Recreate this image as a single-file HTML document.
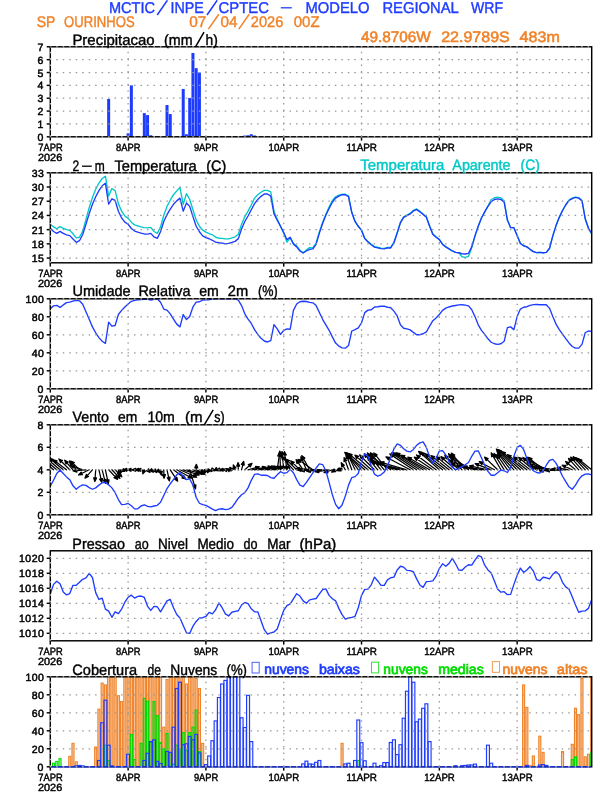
<!DOCTYPE html>
<html><head><meta charset="utf-8"><title>Meteograma WRF - SP OURINHOS</title>
<style>html,body{margin:0;padding:0;background:#fff}svg{display:block;will-change:transform}text{font-family:"Liberation Sans",sans-serif;text-rendering:geometricPrecision}</style>
</head><body>
<svg width="612" height="792" viewBox="0 0 612 792">
<rect width="612" height="792" fill="#fff"/>
<text x="108.9" y="12.65" font-size="15.6" fill="#1e3cff" text-anchor="start" textLength="46.1" lengthAdjust="spacingAndGlyphs" stroke="#1e3cff" stroke-width="0.4">MCTIC</text>
<text x="170.6" y="12.65" font-size="15.6" fill="#1e3cff" text-anchor="start" textLength="33.3" lengthAdjust="spacingAndGlyphs" stroke="#1e3cff" stroke-width="0.4">INPE</text>
<text x="218.6" y="12.65" font-size="15.6" fill="#1e3cff" text-anchor="start" textLength="50.4" lengthAdjust="spacingAndGlyphs" stroke="#1e3cff" stroke-width="0.4">CPTEC</text>
<text x="305.5" y="12.65" font-size="15.6" fill="#1e3cff" text-anchor="start" textLength="64.1" lengthAdjust="spacingAndGlyphs" stroke="#1e3cff" stroke-width="0.4">MODELO</text>
<text x="382.4" y="12.65" font-size="15.6" fill="#1e3cff" text-anchor="start" textLength="76.4" lengthAdjust="spacingAndGlyphs" stroke="#1e3cff" stroke-width="0.4">REGIONAL</text>
<text x="471" y="12.65" font-size="15.6" fill="#1e3cff" text-anchor="start" textLength="32" lengthAdjust="spacingAndGlyphs" stroke="#1e3cff" stroke-width="0.4">WRF</text>
<line x1="157.2" y1="15.05" x2="167.4" y2="0.25" stroke="#1e3cff" stroke-width="1.5"/>
<line x1="207" y1="15.05" x2="217.2" y2="0.25" stroke="#1e3cff" stroke-width="1.5"/>
<line x1="280.8" y1="7.8" x2="291.8" y2="7.8" stroke="#1e3cff" stroke-width="1.3"/>
<text x="36.7" y="26.7" font-size="15.5" fill="#f08228" text-anchor="start" textLength="18.6" lengthAdjust="spacingAndGlyphs" stroke="#f08228" stroke-width="0.4">SP</text>
<text x="64.1" y="26.7" font-size="15.5" fill="#f08228" text-anchor="start" textLength="70.6" lengthAdjust="spacingAndGlyphs" stroke="#f08228" stroke-width="0.4">OURINHOS</text>
<text x="189.2" y="26.7" font-size="15.5" fill="#f08228" text-anchor="start" textLength="17.1" lengthAdjust="spacingAndGlyphs" stroke="#f08228" stroke-width="0.4">07</text>
<text x="220.6" y="26.7" font-size="15.5" fill="#f08228" text-anchor="start" textLength="17" lengthAdjust="spacingAndGlyphs" stroke="#f08228" stroke-width="0.4">04</text>
<text x="250.8" y="26.7" font-size="15.5" fill="#f08228" text-anchor="start" textLength="32.5" lengthAdjust="spacingAndGlyphs" stroke="#f08228" stroke-width="0.4">2026</text>
<text x="293.7" y="26.7" font-size="15.5" fill="#f08228" text-anchor="start" textLength="25.9" lengthAdjust="spacingAndGlyphs" stroke="#f08228" stroke-width="0.4">00Z</text>
<line x1="208.4" y1="29.1" x2="218.8" y2="14.3" stroke="#f08228" stroke-width="1.5"/>
<line x1="238.8" y1="29.1" x2="249.2" y2="14.3" stroke="#f08228" stroke-width="1.5"/>
<text x="360.9" y="42.45" font-size="15.1" fill="#f08228" text-anchor="start" textLength="69.9" lengthAdjust="spacingAndGlyphs" stroke="#f08228" stroke-width="0.55">49.8706W</text>
<text x="441.2" y="42.45" font-size="15.1" fill="#f08228" text-anchor="start" textLength="68.6" lengthAdjust="spacingAndGlyphs" stroke="#f08228" stroke-width="0.55">22.9789S</text>
<text x="519.6" y="42.45" font-size="15.1" fill="#f08228" text-anchor="start" textLength="40.2" lengthAdjust="spacingAndGlyphs" stroke="#f08228" stroke-width="0.55">483m</text>
<g clip-path="url(#c0)">
<clipPath id="c0"><rect x="50.3" y="46.8" width="541.4" height="90"/></clipPath>
<rect x="107.15" y="99" width="3.0" height="37.8" fill="#1e3cff"/>
<rect x="110.4" y="136.16" width="3.0" height="0.64" fill="#1e3cff"/>
<rect x="126.61" y="133.33" width="3.0" height="3.47" fill="#1e3cff"/>
<rect x="129.85" y="85.37" width="3.0" height="51.43" fill="#1e3cff"/>
<rect x="142.82" y="113.14" width="3.0" height="23.66" fill="#1e3cff"/>
<rect x="146.06" y="115.07" width="3.0" height="21.73" fill="#1e3cff"/>
<rect x="149.3" y="135.26" width="3.0" height="1.54" fill="#1e3cff"/>
<rect x="155.78" y="136.41" width="3.0" height="0.39" fill="#1e3cff"/>
<rect x="165.51" y="105.04" width="3.0" height="31.76" fill="#1e3cff"/>
<rect x="168.75" y="114.04" width="3.0" height="22.76" fill="#1e3cff"/>
<rect x="175.23" y="136.16" width="3.0" height="0.64" fill="#1e3cff"/>
<rect x="181.72" y="88.97" width="3.0" height="47.83" fill="#1e3cff"/>
<rect x="184.96" y="134.23" width="3.0" height="2.57" fill="#1e3cff"/>
<rect x="188.2" y="97.97" width="3.0" height="38.83" fill="#1e3cff"/>
<rect x="191.44" y="52.97" width="3.0" height="83.83" fill="#1e3cff"/>
<rect x="194.69" y="68.14" width="3.0" height="68.66" fill="#1e3cff"/>
<rect x="197.93" y="72.51" width="3.0" height="64.29" fill="#1e3cff"/>
<rect x="223.86" y="136.29" width="3.0" height="0.51" fill="#1e3cff"/>
<rect x="227.11" y="136.29" width="3.0" height="0.51" fill="#1e3cff"/>
<rect x="230.35" y="136.29" width="3.0" height="0.51" fill="#1e3cff"/>
<rect x="233.59" y="136.16" width="3.0" height="0.64" fill="#1e3cff"/>
<rect x="236.83" y="136.29" width="3.0" height="0.51" fill="#1e3cff"/>
<rect x="240.07" y="136.16" width="3.0" height="0.64" fill="#1e3cff"/>
<rect x="243.31" y="135.51" width="3.0" height="1.29" fill="#1e3cff"/>
<rect x="246.56" y="135.26" width="3.0" height="1.54" fill="#1e3cff"/>
<rect x="249.8" y="134.23" width="3.0" height="2.57" fill="#1e3cff"/>
<rect x="253.04" y="135.51" width="3.0" height="1.29" fill="#1e3cff"/>
<rect x="327.6" y="136.41" width="3.0" height="0.39" fill="#1e3cff"/>
<rect x="330.85" y="136.41" width="3.0" height="0.39" fill="#1e3cff"/>
<rect x="382.72" y="136.41" width="3.0" height="0.39" fill="#1e3cff"/>
<rect x="385.96" y="136.41" width="3.0" height="0.39" fill="#1e3cff"/>
<rect x="408.65" y="136.29" width="3.0" height="0.51" fill="#1e3cff"/>
<rect x="411.89" y="136.41" width="3.0" height="0.39" fill="#1e3cff"/>
<rect x="492.94" y="136.29" width="3.0" height="0.51" fill="#1e3cff"/>
</g>
<rect x="50.3" y="46.8" width="541.4" height="90" fill="none" stroke="#000" stroke-width="1.45"/>
<line x1="46.7" y1="136.8" x2="50.3" y2="136.8" stroke="#000" stroke-width="1.45"/>
<text x="43.8" y="140.8" font-size="10.5" fill="#000" text-anchor="end" stroke="#000" stroke-width="0.5" letter-spacing="0.45">0</text>
<line x1="46.7" y1="123.94" x2="50.3" y2="123.94" stroke="#000" stroke-width="1.45"/>
<text x="43.8" y="127.94" font-size="10.5" fill="#000" text-anchor="end" stroke="#000" stroke-width="0.5" letter-spacing="0.45">1</text>
<line x1="46.7" y1="111.09" x2="50.3" y2="111.09" stroke="#000" stroke-width="1.45"/>
<text x="43.8" y="115.09" font-size="10.5" fill="#000" text-anchor="end" stroke="#000" stroke-width="0.5" letter-spacing="0.45">2</text>
<line x1="46.7" y1="98.23" x2="50.3" y2="98.23" stroke="#000" stroke-width="1.45"/>
<text x="43.8" y="102.23" font-size="10.5" fill="#000" text-anchor="end" stroke="#000" stroke-width="0.5" letter-spacing="0.45">3</text>
<line x1="46.7" y1="85.37" x2="50.3" y2="85.37" stroke="#000" stroke-width="1.45"/>
<text x="43.8" y="89.37" font-size="10.5" fill="#000" text-anchor="end" stroke="#000" stroke-width="0.5" letter-spacing="0.45">4</text>
<line x1="46.7" y1="72.51" x2="50.3" y2="72.51" stroke="#000" stroke-width="1.45"/>
<text x="43.8" y="76.51" font-size="10.5" fill="#000" text-anchor="end" stroke="#000" stroke-width="0.5" letter-spacing="0.45">5</text>
<line x1="46.7" y1="59.66" x2="50.3" y2="59.66" stroke="#000" stroke-width="1.45"/>
<text x="43.8" y="63.66" font-size="10.5" fill="#000" text-anchor="end" stroke="#000" stroke-width="0.5" letter-spacing="0.45">6</text>
<line x1="46.7" y1="46.8" x2="50.3" y2="46.8" stroke="#000" stroke-width="1.45"/>
<text x="43.8" y="50.8" font-size="10.5" fill="#000" text-anchor="end" stroke="#000" stroke-width="0.5" letter-spacing="0.45">7</text>
<line x1="50.3" y1="136.8" x2="50.3" y2="140.6" stroke="#000" stroke-width="1.45"/>
<text x="38.3" y="150.5" font-size="10.5" fill="#000" text-anchor="start" textLength="24.4" lengthAdjust="spacingAndGlyphs" stroke="#000" stroke-width="0.45">7APR</text>
<line x1="128.11" y1="136.8" x2="128.11" y2="140.6" stroke="#000" stroke-width="1.45"/>
<text x="116.11" y="150.5" font-size="10.5" fill="#000" text-anchor="start" textLength="24.4" lengthAdjust="spacingAndGlyphs" stroke="#000" stroke-width="0.45">8APR</text>
<line x1="205.91" y1="136.8" x2="205.91" y2="140.6" stroke="#000" stroke-width="1.45"/>
<text x="193.91" y="150.5" font-size="10.5" fill="#000" text-anchor="start" textLength="24.4" lengthAdjust="spacingAndGlyphs" stroke="#000" stroke-width="0.45">9APR</text>
<line x1="283.72" y1="136.8" x2="283.72" y2="140.6" stroke="#000" stroke-width="1.45"/>
<text x="268.62" y="150.5" font-size="10.5" fill="#000" text-anchor="start" textLength="30.6" lengthAdjust="spacingAndGlyphs" stroke="#000" stroke-width="0.45">10APR</text>
<line x1="361.52" y1="136.8" x2="361.52" y2="140.6" stroke="#000" stroke-width="1.45"/>
<text x="346.42" y="150.5" font-size="10.5" fill="#000" text-anchor="start" textLength="30.6" lengthAdjust="spacingAndGlyphs" stroke="#000" stroke-width="0.45">11APR</text>
<line x1="439.33" y1="136.8" x2="439.33" y2="140.6" stroke="#000" stroke-width="1.45"/>
<text x="424.23" y="150.5" font-size="10.5" fill="#000" text-anchor="start" textLength="30.6" lengthAdjust="spacingAndGlyphs" stroke="#000" stroke-width="0.45">12APR</text>
<line x1="517.14" y1="136.8" x2="517.14" y2="140.6" stroke="#000" stroke-width="1.45"/>
<text x="502.04" y="150.5" font-size="10.5" fill="#000" text-anchor="start" textLength="30.6" lengthAdjust="spacingAndGlyphs" stroke="#000" stroke-width="0.45">13APR</text>
<text x="38" y="161.1" font-size="10.5" fill="#000" text-anchor="start" textLength="24.2" lengthAdjust="spacingAndGlyphs" stroke="#000" stroke-width="0.45">2026</text>
<line x1="50.3" y1="136.8" x2="591.7" y2="136.8" stroke="#c4c4c4" stroke-width="1.25" stroke-dasharray="1.5 4.98" stroke-dashoffset="0.53"/>
<line x1="50.3" y1="123.94" x2="591.7" y2="123.94" stroke="#989898" stroke-width="1.25" stroke-dasharray="1.5 4.98" stroke-dashoffset="0.53"/>
<line x1="50.3" y1="111.09" x2="591.7" y2="111.09" stroke="#989898" stroke-width="1.25" stroke-dasharray="1.5 4.98" stroke-dashoffset="0.53"/>
<line x1="50.3" y1="98.23" x2="591.7" y2="98.23" stroke="#989898" stroke-width="1.25" stroke-dasharray="1.5 4.98" stroke-dashoffset="0.53"/>
<line x1="50.3" y1="85.37" x2="591.7" y2="85.37" stroke="#989898" stroke-width="1.25" stroke-dasharray="1.5 4.98" stroke-dashoffset="0.53"/>
<line x1="50.3" y1="72.51" x2="591.7" y2="72.51" stroke="#989898" stroke-width="1.25" stroke-dasharray="1.5 4.98" stroke-dashoffset="0.53"/>
<line x1="50.3" y1="59.66" x2="591.7" y2="59.66" stroke="#989898" stroke-width="1.25" stroke-dasharray="1.5 4.98" stroke-dashoffset="0.53"/>
<line x1="50.3" y1="46.8" x2="591.7" y2="46.8" stroke="#c4c4c4" stroke-width="1.25" stroke-dasharray="1.5 4.98" stroke-dashoffset="0.53"/>
<line x1="50.3" y1="46.8" x2="50.3" y2="136.8" stroke="#c4c4c4" stroke-width="1.25" stroke-dasharray="1.5 4.93" stroke-dashoffset="-4.85"/>
<line x1="128.11" y1="46.8" x2="128.11" y2="136.8" stroke="#989898" stroke-width="1.25" stroke-dasharray="1.5 4.93" stroke-dashoffset="-4.85"/>
<line x1="205.91" y1="46.8" x2="205.91" y2="136.8" stroke="#989898" stroke-width="1.25" stroke-dasharray="1.5 4.93" stroke-dashoffset="-4.85"/>
<line x1="283.72" y1="46.8" x2="283.72" y2="136.8" stroke="#989898" stroke-width="1.25" stroke-dasharray="1.5 4.93" stroke-dashoffset="-4.85"/>
<line x1="361.52" y1="46.8" x2="361.52" y2="136.8" stroke="#989898" stroke-width="1.25" stroke-dasharray="1.5 4.93" stroke-dashoffset="-4.85"/>
<line x1="439.33" y1="46.8" x2="439.33" y2="136.8" stroke="#989898" stroke-width="1.25" stroke-dasharray="1.5 4.93" stroke-dashoffset="-4.85"/>
<line x1="517.14" y1="46.8" x2="517.14" y2="136.8" stroke="#989898" stroke-width="1.25" stroke-dasharray="1.5 4.93" stroke-dashoffset="-4.85"/>
<text x="72.4" y="44.5" font-size="15.0" fill="#000" text-anchor="start" textLength="82.3" lengthAdjust="spacingAndGlyphs" stroke="#000" stroke-width="0.4">Precipitacao</text>
<text x="164" y="44.5" font-size="15.0" fill="#000" text-anchor="start" textLength="28.6" lengthAdjust="spacingAndGlyphs" stroke="#000" stroke-width="0.4">(mm</text>
<text x="205.5" y="44.5" font-size="15.0" fill="#000" text-anchor="start" textLength="12.3" lengthAdjust="spacingAndGlyphs" stroke="#000" stroke-width="0.4">h)</text>
<line x1="195.5" y1="46.9" x2="204" y2="32.1" stroke="#000" stroke-width="1.5"/>
<clipPath id="c1"><rect x="50.3" y="172.8" width="541.4" height="90"/></clipPath>
<g clip-path="url(#c1)">
<polyline points="50.3,224.22 53.54,226.96 56.78,228.75 60.03,226.69 63.27,228.33 66.51,229.71 69.75,230.39 72.99,233.82 76.24,237.94 79.48,237.25 82.72,231.08 85.96,219.41 89.2,207.75 92.44,197.45 95.69,189.22 98.93,183.04 102.17,178.51 105.41,176.18 108.65,196.08 111.9,188.53 115.14,190.59 118.38,203.63 121.62,211.18 124.86,215.98 128.11,218.38 131.35,222.16 134.59,224.9 137.83,225.86 141.07,226.96 144.32,227.65 147.56,227.92 150.8,227.37 154.04,231.49 157.28,233.41 160.53,226.96 163.77,215.29 167.01,206.37 170.25,200.2 173.49,194.71 176.73,190.86 179.98,187.57 183.22,204.31 186.46,193.61 189.7,199.51 192.94,209.8 196.19,220.1 199.43,226.27 202.67,230.12 205.91,232.18 209.15,233.62 212.4,234.78 215.64,237.25 218.88,238.22 222.12,238.35 225.36,238.9 228.61,238.9 231.85,237.94 235.09,236.84 238.33,234.24 241.57,224.22 244.81,216.67 248.06,211.18 251.3,205 254.54,198.14 257.78,194.71 261.02,192.24 264.27,190.31 267.51,190.31 270.75,191.96 273.99,211.18 277.23,219.41 280.48,226.27 283.72,233.14 286.96,242.2 290.2,237.94 293.44,243.43 296.69,245.9 299.93,250.29 303.17,252.76 306.41,249.88 309.65,247.55 312.9,247.82 316.14,242.75 319.38,231.76 322.62,222.43 325.86,214.2 329.1,207.06 332.35,200.47 335.59,196.76 338.83,195.12 342.07,194.29 345.31,194.29 348.56,196.08 351.8,212.55 355.04,221.47 358.28,226.27 361.52,230.12 364.77,238.35 368.01,241.51 371.25,244.25 374.49,246.59 377.73,247.27 380.98,248.1 384.22,248.37 387.46,247.41 390.7,247.41 393.94,242.2 397.19,232.59 400.43,222.29 403.67,216.8 406.91,215.02 410.15,213.37 413.39,210.35 416.64,208.98 419.88,211.31 423.12,214.06 426.36,216.8 429.6,225.73 432.85,233.96 436.09,236.71 439.33,239.38 442.57,244.19 445.81,246.86 449.06,248.92 452.3,250.98 455.54,252.35 458.78,252.76 462.02,256.75 465.27,257.43 468.51,256.47 471.75,247.55 474.99,235.88 478.23,226.27 481.47,218.04 484.72,211.86 487.96,205.96 491.2,199.51 494.44,197.73 497.68,197.18 500.93,197.86 504.17,200.88 507.41,220.1 510.65,227.65 513.89,227.65 517.14,235.54 520.38,243.43 523.62,245.76 526.86,246.86 530.1,249.33 533.35,251.67 536.59,252.63 539.83,252.35 543.07,252.76 546.31,252.35 549.56,248.24 552.8,235.88 556.04,225.59 559.28,217.35 562.52,210.49 565.76,204.73 569.01,200.06 572.25,198.14 575.49,197.04 578.73,197.73 581.97,200.47 585.22,218.73 588.46,228.33 591.7,234.24" fill="none" stroke="#00c8c8" stroke-width="1.35" stroke-linejoin="round" stroke-linecap="round"/>
<polyline points="50.3,228.33 53.54,231.49 56.78,233.41 60.03,231.35 63.27,233.41 66.51,234.92 69.75,235.61 72.99,239.04 76.24,242.33 79.48,240.69 82.72,234.51 85.96,224.22 89.2,213.65 92.44,204.31 95.69,196.76 98.93,190.59 102.17,185.78 105.41,183.31 108.65,204.04 111.9,198.82 115.14,200.47 118.38,211.18 121.62,218.04 124.86,222.16 128.11,224.22 131.35,228.47 134.59,231.08 137.83,232.18 141.07,233.14 144.32,233.96 147.56,234.1 150.8,233.41 154.04,236.98 157.28,238.35 160.53,231.76 163.77,221.47 167.01,214.61 170.25,209.12 173.49,204.31 176.73,200.88 179.98,198.14 183.22,211.18 186.46,202.94 189.7,206.37 192.94,216.67 196.19,226.27 199.43,231.76 202.67,235.88 205.91,237.6 209.15,238.76 212.4,240.27 215.64,242.06 218.88,242.75 222.12,243.16 225.36,243.71 228.61,243.43 231.85,242.47 235.09,241.37 238.33,238.63 241.57,229.02 244.81,221.47 248.06,215.98 251.3,209.8 254.54,203.63 257.78,199.51 261.02,196.35 264.27,194.02 267.51,194.02 270.75,196.08 273.99,213.92 277.23,220.1 280.48,226.27 283.72,232.45 286.96,239.66 290.2,237.25 293.44,244.12 296.69,246.86 299.93,250.98 303.17,253.04 306.41,250.98 309.65,249.33 312.9,248.92 316.14,244.12 319.38,233.14 322.62,223.53 325.86,215.29 329.1,208.43 332.35,202.25 335.59,198.14 338.83,196.08 342.07,194.71 345.31,194.71 348.56,196.76 351.8,212.55 355.04,221.47 358.28,226.27 361.52,230.39 364.77,238.63 368.01,242.06 371.25,244.8 374.49,247.14 377.73,247.82 380.98,248.65 384.22,248.92 387.46,247.96 390.7,247.96 393.94,242.75 397.19,233.14 400.43,222.84 403.67,217.35 406.91,215.57 410.15,213.92 413.39,210.9 416.64,209.53 419.88,211.86 423.12,214.61 426.36,217.35 429.6,226.27 432.85,234.51 436.09,237.25 439.33,239.66 442.57,244.46 445.81,246.86 449.06,248.92 452.3,250.98 455.54,252.35 458.78,252.76 462.02,253.73 465.27,254 468.51,253.31 471.75,246.86 474.99,235.88 478.23,226.27 481.47,218.04 484.72,211.86 487.96,206.37 491.2,201.57 494.44,199.51 497.68,198.82 500.93,199.51 504.17,202.25 507.41,220.1 510.65,227.65 513.89,227.65 517.14,235.54 520.38,243.43 523.62,245.76 526.86,246.86 530.1,249.33 533.35,251.67 536.59,252.63 539.83,252.35 543.07,252.76 546.31,252.35 549.56,248.24 552.8,235.88 556.04,225.59 559.28,217.35 562.52,210.49 565.76,205 569.01,200.47 572.25,198.55 575.49,197.45 578.73,198.14 581.97,200.88 585.22,218.73 588.46,228.33 591.7,233.14" fill="none" stroke="#1e3cff" stroke-width="1.35" stroke-linejoin="round" stroke-linecap="round"/>
</g>
<rect x="50.3" y="172.8" width="541.4" height="90" fill="none" stroke="#000" stroke-width="1.45"/>
<line x1="46.7" y1="258.06" x2="50.3" y2="258.06" stroke="#000" stroke-width="1.45"/>
<text x="44.25" y="262.06" font-size="10.5" fill="#000" text-anchor="end" stroke="#000" stroke-width="0.5" letter-spacing="0.45">15</text>
<line x1="46.7" y1="243.85" x2="50.3" y2="243.85" stroke="#000" stroke-width="1.45"/>
<text x="44.25" y="247.85" font-size="10.5" fill="#000" text-anchor="end" stroke="#000" stroke-width="0.5" letter-spacing="0.45">18</text>
<line x1="46.7" y1="229.64" x2="50.3" y2="229.64" stroke="#000" stroke-width="1.45"/>
<text x="44.25" y="233.64" font-size="10.5" fill="#000" text-anchor="end" stroke="#000" stroke-width="0.5" letter-spacing="0.45">21</text>
<line x1="46.7" y1="215.43" x2="50.3" y2="215.43" stroke="#000" stroke-width="1.45"/>
<text x="44.25" y="219.43" font-size="10.5" fill="#000" text-anchor="end" stroke="#000" stroke-width="0.5" letter-spacing="0.45">24</text>
<line x1="46.7" y1="201.22" x2="50.3" y2="201.22" stroke="#000" stroke-width="1.45"/>
<text x="44.25" y="205.22" font-size="10.5" fill="#000" text-anchor="end" stroke="#000" stroke-width="0.5" letter-spacing="0.45">27</text>
<line x1="46.7" y1="187.01" x2="50.3" y2="187.01" stroke="#000" stroke-width="1.45"/>
<text x="44.25" y="191.01" font-size="10.5" fill="#000" text-anchor="end" stroke="#000" stroke-width="0.5" letter-spacing="0.45">30</text>
<line x1="46.7" y1="172.8" x2="50.3" y2="172.8" stroke="#000" stroke-width="1.45"/>
<text x="44.25" y="176.8" font-size="10.5" fill="#000" text-anchor="end" stroke="#000" stroke-width="0.5" letter-spacing="0.45">33</text>
<line x1="50.3" y1="262.8" x2="50.3" y2="266.6" stroke="#000" stroke-width="1.45"/>
<text x="38.3" y="276.5" font-size="10.5" fill="#000" text-anchor="start" textLength="24.4" lengthAdjust="spacingAndGlyphs" stroke="#000" stroke-width="0.45">7APR</text>
<line x1="128.11" y1="262.8" x2="128.11" y2="266.6" stroke="#000" stroke-width="1.45"/>
<text x="116.11" y="276.5" font-size="10.5" fill="#000" text-anchor="start" textLength="24.4" lengthAdjust="spacingAndGlyphs" stroke="#000" stroke-width="0.45">8APR</text>
<line x1="205.91" y1="262.8" x2="205.91" y2="266.6" stroke="#000" stroke-width="1.45"/>
<text x="193.91" y="276.5" font-size="10.5" fill="#000" text-anchor="start" textLength="24.4" lengthAdjust="spacingAndGlyphs" stroke="#000" stroke-width="0.45">9APR</text>
<line x1="283.72" y1="262.8" x2="283.72" y2="266.6" stroke="#000" stroke-width="1.45"/>
<text x="268.62" y="276.5" font-size="10.5" fill="#000" text-anchor="start" textLength="30.6" lengthAdjust="spacingAndGlyphs" stroke="#000" stroke-width="0.45">10APR</text>
<line x1="361.52" y1="262.8" x2="361.52" y2="266.6" stroke="#000" stroke-width="1.45"/>
<text x="346.42" y="276.5" font-size="10.5" fill="#000" text-anchor="start" textLength="30.6" lengthAdjust="spacingAndGlyphs" stroke="#000" stroke-width="0.45">11APR</text>
<line x1="439.33" y1="262.8" x2="439.33" y2="266.6" stroke="#000" stroke-width="1.45"/>
<text x="424.23" y="276.5" font-size="10.5" fill="#000" text-anchor="start" textLength="30.6" lengthAdjust="spacingAndGlyphs" stroke="#000" stroke-width="0.45">12APR</text>
<line x1="517.14" y1="262.8" x2="517.14" y2="266.6" stroke="#000" stroke-width="1.45"/>
<text x="502.04" y="276.5" font-size="10.5" fill="#000" text-anchor="start" textLength="30.6" lengthAdjust="spacingAndGlyphs" stroke="#000" stroke-width="0.45">13APR</text>
<text x="38" y="287.1" font-size="10.5" fill="#000" text-anchor="start" textLength="24.2" lengthAdjust="spacingAndGlyphs" stroke="#000" stroke-width="0.45">2026</text>
<line x1="50.3" y1="258.06" x2="591.7" y2="258.06" stroke="#989898" stroke-width="1.25" stroke-dasharray="1.5 4.98" stroke-dashoffset="0.53"/>
<line x1="50.3" y1="243.85" x2="591.7" y2="243.85" stroke="#989898" stroke-width="1.25" stroke-dasharray="1.5 4.98" stroke-dashoffset="0.53"/>
<line x1="50.3" y1="229.64" x2="591.7" y2="229.64" stroke="#989898" stroke-width="1.25" stroke-dasharray="1.5 4.98" stroke-dashoffset="0.53"/>
<line x1="50.3" y1="215.43" x2="591.7" y2="215.43" stroke="#989898" stroke-width="1.25" stroke-dasharray="1.5 4.98" stroke-dashoffset="0.53"/>
<line x1="50.3" y1="201.22" x2="591.7" y2="201.22" stroke="#989898" stroke-width="1.25" stroke-dasharray="1.5 4.98" stroke-dashoffset="0.53"/>
<line x1="50.3" y1="187.01" x2="591.7" y2="187.01" stroke="#989898" stroke-width="1.25" stroke-dasharray="1.5 4.98" stroke-dashoffset="0.53"/>
<line x1="50.3" y1="172.8" x2="591.7" y2="172.8" stroke="#c4c4c4" stroke-width="1.25" stroke-dasharray="1.5 4.98" stroke-dashoffset="0.53"/>
<line x1="50.3" y1="172.8" x2="50.3" y2="262.8" stroke="#c4c4c4" stroke-width="1.25" stroke-dasharray="1.5 4.93" stroke-dashoffset="-4.85"/>
<line x1="128.11" y1="172.8" x2="128.11" y2="262.8" stroke="#989898" stroke-width="1.25" stroke-dasharray="1.5 4.93" stroke-dashoffset="-4.85"/>
<line x1="205.91" y1="172.8" x2="205.91" y2="262.8" stroke="#989898" stroke-width="1.25" stroke-dasharray="1.5 4.93" stroke-dashoffset="-4.85"/>
<line x1="283.72" y1="172.8" x2="283.72" y2="262.8" stroke="#989898" stroke-width="1.25" stroke-dasharray="1.5 4.93" stroke-dashoffset="-4.85"/>
<line x1="361.52" y1="172.8" x2="361.52" y2="262.8" stroke="#989898" stroke-width="1.25" stroke-dasharray="1.5 4.93" stroke-dashoffset="-4.85"/>
<line x1="439.33" y1="172.8" x2="439.33" y2="262.8" stroke="#989898" stroke-width="1.25" stroke-dasharray="1.5 4.93" stroke-dashoffset="-4.85"/>
<line x1="517.14" y1="172.8" x2="517.14" y2="262.8" stroke="#989898" stroke-width="1.25" stroke-dasharray="1.5 4.93" stroke-dashoffset="-4.85"/>
<text x="72.4" y="170.8" font-size="15.0" fill="#000" text-anchor="start" textLength="6.7" lengthAdjust="spacingAndGlyphs" stroke="#000" stroke-width="0.4">2</text>
<text x="94.7" y="170.8" font-size="15.0" fill="#000" text-anchor="start" textLength="10" lengthAdjust="spacingAndGlyphs" stroke="#000" stroke-width="0.4">m</text>
<text x="114.4" y="170.8" font-size="15.0" fill="#000" text-anchor="start" textLength="82.4" lengthAdjust="spacingAndGlyphs" stroke="#000" stroke-width="0.4">Temperatura</text>
<text x="206.2" y="170.8" font-size="15.0" fill="#000" text-anchor="start" textLength="20" lengthAdjust="spacingAndGlyphs" stroke="#000" stroke-width="0.4">(C)</text>
<line x1="82" y1="166.2" x2="91.8" y2="166.2" stroke="#000" stroke-width="1.3"/>
<text x="360.3" y="170.3" font-size="15.0" fill="#00c8c8" text-anchor="start" textLength="84.1" lengthAdjust="spacingAndGlyphs" stroke="#00c8c8" stroke-width="0.4">Temperatura</text>
<text x="452.3" y="170.3" font-size="15.0" fill="#00c8c8" text-anchor="start" textLength="58.3" lengthAdjust="spacingAndGlyphs" stroke="#00c8c8" stroke-width="0.4">Aparente</text>
<text x="520.6" y="170.3" font-size="15.0" fill="#00c8c8" text-anchor="start" textLength="19.2" lengthAdjust="spacingAndGlyphs" stroke="#00c8c8" stroke-width="0.4">(C)</text>
<clipPath id="c2"><rect x="50.3" y="298.8" width="541.4" height="90"/></clipPath>
<g clip-path="url(#c2)">
<polyline points="50.3,308.63 53.54,305.88 56.78,305.33 60.03,307.39 63.27,304.92 66.51,302.59 69.75,302.18 72.99,301.22 76.24,300.39 79.48,300.8 82.72,304.24 85.96,311.78 89.2,319.33 92.44,326.88 95.69,332.78 98.93,337.59 102.17,341.29 105.41,343.35 108.65,322.08 111.9,326.2 115.14,325.51 118.38,314.53 121.62,310.41 124.86,306.98 128.11,304.03 131.35,301.35 134.59,300.39 137.83,299.84 141.07,299.57 144.32,299.29 147.56,299.02 150.8,300.12 154.04,299.29 157.28,298.75 160.53,302.18 163.77,309.04 167.01,310.14 170.25,313.84 173.49,319.06 176.73,324.14 179.98,326.88 183.22,314.53 186.46,319.61 189.7,316.59 192.94,306.98 196.19,302.18 199.43,301.76 202.67,300.12 205.91,299.84 209.15,299.71 212.4,299.02 215.64,298.75 218.88,298.75 222.12,298.75 225.36,298.75 228.61,298.75 231.85,298.75 235.09,298.75 238.33,300.12 241.57,305.61 244.81,313.84 248.06,319.06 251.3,323.45 254.54,329.63 257.78,334.43 261.02,338.27 264.27,341.02 267.51,341.98 270.75,340.61 273.99,324.55 277.23,328.94 280.48,334.43 283.72,330.45 286.96,328.94 290.2,329.22 293.44,310.41 296.69,303.96 299.93,301.76 303.17,301.22 306.41,301.49 309.65,302.45 312.9,302.86 316.14,305.61 319.38,312.47 322.62,319.33 325.86,324.82 329.1,330.31 332.35,336.9 335.59,343.08 338.83,346.1 342.07,347.88 345.31,348.16 348.56,345.41 351.8,331 355.04,329.63 358.28,327.84 361.52,322.76 364.77,312.61 368.01,310.14 371.25,309.73 374.49,306.98 377.73,306.71 380.98,306.29 384.22,306.16 387.46,307.25 390.7,307.67 393.94,311.1 397.19,315.9 400.43,324.82 403.67,328.25 406.91,328.94 410.15,329.9 413.39,332.37 416.64,334.71 419.88,334.71 423.12,333.75 426.36,331.96 429.6,326.2 432.85,320.71 436.09,317.96 439.33,314.53 442.57,310.41 445.81,308.08 449.06,306.98 452.3,306.02 455.54,305.47 458.78,304.92 462.02,304.78 465.27,305.2 468.51,305.88 471.75,309.73 474.99,316.59 478.23,324.82 481.47,330.31 484.72,334.43 487.96,338.82 491.2,342.25 494.44,343.76 497.68,344.31 500.93,343.76 504.17,341.29 507.41,327.57 510.65,326.88 513.89,329.63 517.14,316.59 520.38,309.04 523.62,307.25 526.86,306.71 530.1,305.33 533.35,304.65 536.59,304.51 539.83,304.78 543.07,304.78 546.31,304.78 549.56,308.35 552.8,316.59 556.04,324.14 559.28,329.63 562.52,334.16 565.76,338.55 569.01,342.94 572.25,346.51 575.49,348.16 578.73,348.16 581.97,344.31 585.22,332.78 588.46,331 591.7,331.41" fill="none" stroke="#1e3cff" stroke-width="1.35" stroke-linejoin="round" stroke-linecap="round"/>
</g>
<rect x="50.3" y="298.8" width="541.4" height="90" fill="none" stroke="#000" stroke-width="1.45"/>
<line x1="46.7" y1="388.8" x2="50.3" y2="388.8" stroke="#000" stroke-width="1.45"/>
<text x="43.8" y="392.8" font-size="10.5" fill="#000" text-anchor="end" stroke="#000" stroke-width="0.5" letter-spacing="0.45">0</text>
<line x1="46.7" y1="370.8" x2="50.3" y2="370.8" stroke="#000" stroke-width="1.45"/>
<text x="44.25" y="374.8" font-size="10.5" fill="#000" text-anchor="end" stroke="#000" stroke-width="0.5" letter-spacing="0.45">20</text>
<line x1="46.7" y1="352.8" x2="50.3" y2="352.8" stroke="#000" stroke-width="1.45"/>
<text x="44.25" y="356.8" font-size="10.5" fill="#000" text-anchor="end" stroke="#000" stroke-width="0.5" letter-spacing="0.45">40</text>
<line x1="46.7" y1="334.8" x2="50.3" y2="334.8" stroke="#000" stroke-width="1.45"/>
<text x="44.25" y="338.8" font-size="10.5" fill="#000" text-anchor="end" stroke="#000" stroke-width="0.5" letter-spacing="0.45">60</text>
<line x1="46.7" y1="316.8" x2="50.3" y2="316.8" stroke="#000" stroke-width="1.45"/>
<text x="44.25" y="320.8" font-size="10.5" fill="#000" text-anchor="end" stroke="#000" stroke-width="0.5" letter-spacing="0.45">80</text>
<line x1="46.7" y1="298.8" x2="50.3" y2="298.8" stroke="#000" stroke-width="1.45"/>
<text x="44.25" y="302.8" font-size="10.5" fill="#000" text-anchor="end" stroke="#000" stroke-width="0.5" letter-spacing="0.45">100</text>
<line x1="50.3" y1="388.8" x2="50.3" y2="392.6" stroke="#000" stroke-width="1.45"/>
<text x="38.3" y="402.5" font-size="10.5" fill="#000" text-anchor="start" textLength="24.4" lengthAdjust="spacingAndGlyphs" stroke="#000" stroke-width="0.45">7APR</text>
<line x1="128.11" y1="388.8" x2="128.11" y2="392.6" stroke="#000" stroke-width="1.45"/>
<text x="116.11" y="402.5" font-size="10.5" fill="#000" text-anchor="start" textLength="24.4" lengthAdjust="spacingAndGlyphs" stroke="#000" stroke-width="0.45">8APR</text>
<line x1="205.91" y1="388.8" x2="205.91" y2="392.6" stroke="#000" stroke-width="1.45"/>
<text x="193.91" y="402.5" font-size="10.5" fill="#000" text-anchor="start" textLength="24.4" lengthAdjust="spacingAndGlyphs" stroke="#000" stroke-width="0.45">9APR</text>
<line x1="283.72" y1="388.8" x2="283.72" y2="392.6" stroke="#000" stroke-width="1.45"/>
<text x="268.62" y="402.5" font-size="10.5" fill="#000" text-anchor="start" textLength="30.6" lengthAdjust="spacingAndGlyphs" stroke="#000" stroke-width="0.45">10APR</text>
<line x1="361.52" y1="388.8" x2="361.52" y2="392.6" stroke="#000" stroke-width="1.45"/>
<text x="346.42" y="402.5" font-size="10.5" fill="#000" text-anchor="start" textLength="30.6" lengthAdjust="spacingAndGlyphs" stroke="#000" stroke-width="0.45">11APR</text>
<line x1="439.33" y1="388.8" x2="439.33" y2="392.6" stroke="#000" stroke-width="1.45"/>
<text x="424.23" y="402.5" font-size="10.5" fill="#000" text-anchor="start" textLength="30.6" lengthAdjust="spacingAndGlyphs" stroke="#000" stroke-width="0.45">12APR</text>
<line x1="517.14" y1="388.8" x2="517.14" y2="392.6" stroke="#000" stroke-width="1.45"/>
<text x="502.04" y="402.5" font-size="10.5" fill="#000" text-anchor="start" textLength="30.6" lengthAdjust="spacingAndGlyphs" stroke="#000" stroke-width="0.45">13APR</text>
<text x="38" y="413.1" font-size="10.5" fill="#000" text-anchor="start" textLength="24.2" lengthAdjust="spacingAndGlyphs" stroke="#000" stroke-width="0.45">2026</text>
<line x1="50.3" y1="388.8" x2="591.7" y2="388.8" stroke="#c4c4c4" stroke-width="1.25" stroke-dasharray="1.5 4.98" stroke-dashoffset="0.53"/>
<line x1="50.3" y1="370.8" x2="591.7" y2="370.8" stroke="#989898" stroke-width="1.25" stroke-dasharray="1.5 4.98" stroke-dashoffset="0.53"/>
<line x1="50.3" y1="352.8" x2="591.7" y2="352.8" stroke="#989898" stroke-width="1.25" stroke-dasharray="1.5 4.98" stroke-dashoffset="0.53"/>
<line x1="50.3" y1="334.8" x2="591.7" y2="334.8" stroke="#989898" stroke-width="1.25" stroke-dasharray="1.5 4.98" stroke-dashoffset="0.53"/>
<line x1="50.3" y1="316.8" x2="591.7" y2="316.8" stroke="#989898" stroke-width="1.25" stroke-dasharray="1.5 4.98" stroke-dashoffset="0.53"/>
<line x1="50.3" y1="298.8" x2="591.7" y2="298.8" stroke="#c4c4c4" stroke-width="1.25" stroke-dasharray="1.5 4.98" stroke-dashoffset="0.53"/>
<line x1="50.3" y1="298.8" x2="50.3" y2="388.8" stroke="#c4c4c4" stroke-width="1.25" stroke-dasharray="1.5 4.93" stroke-dashoffset="-4.85"/>
<line x1="128.11" y1="298.8" x2="128.11" y2="388.8" stroke="#989898" stroke-width="1.25" stroke-dasharray="1.5 4.93" stroke-dashoffset="-4.85"/>
<line x1="205.91" y1="298.8" x2="205.91" y2="388.8" stroke="#989898" stroke-width="1.25" stroke-dasharray="1.5 4.93" stroke-dashoffset="-4.85"/>
<line x1="283.72" y1="298.8" x2="283.72" y2="388.8" stroke="#989898" stroke-width="1.25" stroke-dasharray="1.5 4.93" stroke-dashoffset="-4.85"/>
<line x1="361.52" y1="298.8" x2="361.52" y2="388.8" stroke="#989898" stroke-width="1.25" stroke-dasharray="1.5 4.93" stroke-dashoffset="-4.85"/>
<line x1="439.33" y1="298.8" x2="439.33" y2="388.8" stroke="#989898" stroke-width="1.25" stroke-dasharray="1.5 4.93" stroke-dashoffset="-4.85"/>
<line x1="517.14" y1="298.8" x2="517.14" y2="388.8" stroke="#989898" stroke-width="1.25" stroke-dasharray="1.5 4.93" stroke-dashoffset="-4.85"/>
<text x="72.5" y="296.4" font-size="15.0" fill="#000" text-anchor="start" textLength="58.1" lengthAdjust="spacingAndGlyphs" stroke="#000" stroke-width="0.4">Umidade</text>
<text x="138.4" y="296.4" font-size="15.0" fill="#000" text-anchor="start" textLength="52.2" lengthAdjust="spacingAndGlyphs" stroke="#000" stroke-width="0.4">Relativa</text>
<text x="199.2" y="296.4" font-size="15.0" fill="#000" text-anchor="start" textLength="19.6" lengthAdjust="spacingAndGlyphs" stroke="#000" stroke-width="0.4">em</text>
<text x="227.8" y="296.4" font-size="15.0" fill="#000" text-anchor="start" textLength="20.4" lengthAdjust="spacingAndGlyphs" stroke="#000" stroke-width="0.4">2m</text>
<text x="258" y="296.4" font-size="15.0" fill="#000" text-anchor="start" textLength="19.6" lengthAdjust="spacingAndGlyphs" stroke="#000" stroke-width="0.4">(%)</text>
<clipPath id="c3"><rect x="50.3" y="424.8" width="541.4" height="90"/></clipPath>
<g clip-path="url(#c3)">
<g stroke="#000" stroke-width="1.25" fill="#000" stroke-linecap="round" stroke-linejoin="round">
<path d="M50.3 469.8L40.63 461.69M44.34 462.89L40.63 461.69L42.46 465.13Z"/>
<path d="M53.54 469.8L42.04 460.15M45.75 461.36L42.04 460.15L43.87 463.59Z"/>
<path d="M56.78 469.8L42.99 458.23M46.7 459.43L42.99 458.23L44.83 461.67Z"/>
<path d="M60.03 469.8L45.09 457.27M48.8 458.47L45.09 457.27L46.92 460.71Z"/>
<path d="M63.27 469.8L49.48 458.23M53.19 459.43L49.48 458.23L51.31 461.67Z"/>
<path d="M66.51 469.8L53.33 459.87M57.09 460.88L53.33 459.87L55.34 463.21Z"/>
<path d="M69.75 469.8L58.92 458.97M62.51 460.5L58.92 458.97L60.45 462.56Z"/>
<path d="M72.99 469.8L64.71 460.27M68.19 462.05L64.71 460.27L65.98 463.96Z"/>
<path d="M76.24 469.8L69.39 461.03M72.76 462.98L69.39 461.03L70.46 464.78Z"/>
<path d="M79.48 469.8L70.76 461.09M74.35 462.61L70.76 461.09L72.29 464.68Z"/>
<path d="M82.72 469.8L70.47 465.34M74.36 465.2L70.47 465.34L73.36 467.95Z"/>
<path d="M85.96 469.8L73.21 470.92M76.68 469.15L73.21 470.92L76.94 472.06Z"/>
<path d="M89.2 469.8L78.56 474.99M81.17 472.09L78.56 474.99L82.45 474.72Z"/>
<path d="M92.44 469.8L85 478.07M86.33 474.4L85 478.07L88.51 476.36Z"/>
<path d="M95.69 469.8L94.87 481.5M93.66 477.79L94.87 481.5L96.58 477.99Z"/>
<path d="M98.93 469.8L101.84 482.39M99.6 479.19L101.84 482.39L102.45 478.54Z"/>
<path d="M102.17 469.8L105.54 483.32M103.25 480.17L105.54 483.32L106.08 479.46Z"/>
<path d="M105.41 469.8L108.35 483.61M106.17 480.37L108.35 483.61L109.02 479.77Z"/>
<path d="M108.65 469.8L117.55 479.34M114.01 477.69L117.55 479.34L116.15 475.7Z"/>
<path d="M111.9 469.8L119.89 478.37M116.36 476.73L119.89 478.37L118.49 474.73Z"/>
<path d="M115.14 469.8L121.83 476.73M118.27 475.14L121.83 476.73L120.37 473.11Z"/>
<path d="M118.38 469.8L119.53 476.34M117.47 473.03L119.53 476.34L120.34 472.53Z"/>
<path d="M121.62 469.8L119.41 473.64M119.95 469.78L119.41 473.64L122.48 471.24Z"/>
<path d="M124.86 469.8L120.59 471.36M123.49 468.75L120.59 471.36L124.49 471.49Z"/>
<path d="M128.11 469.8L123.17 469.8M126.78 468.34L123.17 469.8L126.78 471.26Z"/>
<path d="M131.35 469.8L127.4 469.8M131.01 468.34L127.4 469.8L131.01 471.26Z"/>
<path d="M134.59 469.8L132.01 469.8M135.63 468.34L132.01 469.8L135.63 471.26Z"/>
<path d="M137.83 469.8L135.19 469.8M138.81 468.34L135.19 469.8L138.81 471.26Z"/>
<path d="M141.07 469.8L137.24 469.8M140.86 468.34L137.24 469.8L140.86 471.26Z"/>
<path d="M144.32 469.8L142.82 473.91M142.68 470.01L142.82 473.91L145.43 471.01Z"/>
<path d="M147.56 469.8L150.14 472.38M146.55 470.86L150.14 472.38L148.62 468.79Z"/>
<path d="M150.8 469.8L153.26 472.26M149.67 470.73L153.26 472.26L151.73 468.67Z"/>
<path d="M154.04 469.8L156.75 472.51M153.16 470.99L156.75 472.51L155.23 468.92Z"/>
<path d="M157.28 469.8L160.2 472.72M156.61 471.2L160.2 472.72L158.68 469.13Z"/>
<path d="M160.53 469.8L161.47 475.16M159.4 471.86L161.47 475.16L162.28 471.35Z"/>
<path d="M163.77 469.8L164.06 478.23M162.48 474.67L164.06 478.23L165.4 474.57Z"/>
<path d="M167.01 469.8L169.38 480.98M167.2 477.74L169.38 480.98L170.06 477.13Z"/>
<path d="M170.25 469.8L177.61 481.14M174.42 478.9L177.61 481.14L176.87 477.31Z"/>
<path d="M173.49 469.8L185.72 479.01M181.95 478.01L185.72 479.01L183.71 475.67Z"/>
<path d="M176.73 469.8L191.96 478.24M188.09 477.76L191.96 478.24L189.5 475.21Z"/>
<path d="M179.98 469.8L196.69 477.24M192.8 477.11L196.69 477.24L193.99 474.44Z"/>
<path d="M183.22 469.8L199.2 474.99M195.31 475.27L199.2 474.99L196.21 472.49Z"/>
<path d="M186.46 469.8L201.32 473.5M197.45 474.05L201.32 473.5L198.16 471.21Z"/>
<path d="M189.7 469.8L195.52 488.83M193.07 485.8L195.52 488.83L195.86 484.95Z"/>
<path d="M192.94 469.8L205.08 474.22M201.19 474.35L205.08 474.22L202.19 471.61Z"/>
<path d="M196.19 469.8L196.38 464.3M197.71 467.97L196.38 464.3L194.79 467.87Z"/>
<path d="M199.43 469.8L196.91 474.15M197.46 470.29L196.91 474.15L199.99 471.75Z"/>
<path d="M202.67 469.8L200.8 473.82M201 469.92L200.8 473.82L203.65 471.16Z"/>
<path d="M205.91 469.8L204.18 473.52M204.38 469.62L204.18 473.52L207.03 470.86Z"/>
<path d="M209.15 469.8L207.48 472.71M208.02 468.84L207.48 472.71L210.55 470.3Z"/>
<path d="M212.4 469.8L210.82 471.68M212.02 467.97L210.82 471.68L214.26 469.85Z"/>
<path d="M215.64 469.8L214.11 470.87M216.24 467.6L214.11 470.87L217.91 469.99Z"/>
<path d="M218.88 469.8L216.57 470.64M219.47 468.03L216.57 470.64L220.47 470.78Z"/>
<path d="M222.12 469.8L219.49 470.03M222.97 468.26L219.49 470.03L223.22 471.17Z"/>
<path d="M225.36 469.8L223.12 469.4M226.93 468.59L223.12 469.4L226.43 471.47Z"/>
<path d="M228.61 469.8L226.48 468.57M230.34 469.11L226.48 468.57L228.88 471.64Z"/>
<path d="M231.85 469.8L229.77 467.32M233.21 469.15L229.77 467.32L230.97 471.03Z"/>
<path d="M235.09 469.8L233.33 464.96M235.94 467.86L233.33 464.96L233.19 468.86Z"/>
<path d="M238.33 469.8L238.08 462.56M239.66 466.13L238.08 462.56L236.74 466.23Z"/>
<path d="M241.57 469.8L243.69 461.32M244.23 465.19L243.69 461.32L241.39 464.48Z"/>
<path d="M244.81 469.8L251.97 463.36M250.26 466.86L251.97 463.36L248.31 464.69Z"/>
<path d="M248.06 469.8L259.38 466.77M256.27 469.11L259.38 466.77L255.51 466.29Z"/>
<path d="M251.3 469.8L266.08 467.19M262.78 469.26L266.08 467.19L262.27 466.38Z"/>
<path d="M254.54 469.8L271.86 466.75M268.55 468.81L271.86 466.75L268.04 465.94Z"/>
<path d="M257.78 469.8L275.33 466.71M272.03 468.77L275.33 466.71L271.52 465.89Z"/>
<path d="M261.02 469.8L277.99 466.81M274.68 468.88L277.99 466.81L274.17 466Z"/>
<path d="M264.27 469.8L281.23 466.81M277.92 468.88L281.23 466.81L277.41 466Z"/>
<path d="M267.51 469.8L284.35 466.83M281.05 468.9L284.35 466.83L280.54 466.02Z"/>
<path d="M270.75 469.8L286.71 466.99M283.4 469.05L286.71 466.99L282.9 466.17Z"/>
<path d="M273.99 469.8L289.66 467.04M286.35 469.1L289.66 467.04L285.84 466.23Z"/>
<path d="M277.23 469.8L279.66 452.57M280.6 456.35L279.66 452.57L277.71 455.94Z"/>
<path d="M280.48 469.8L279.82 451.03M281.41 454.6L279.82 451.03L278.49 454.7Z"/>
<path d="M283.72 469.8L282.14 451.78M283.91 455.25L282.14 451.78L281 455.51Z"/>
<path d="M286.96 469.8L284.4 451.62M286.35 455L284.4 451.62L283.46 455.4Z"/>
<path d="M290.2 469.8L281.84 451.86M284.69 454.52L281.84 451.86L282.04 455.75Z"/>
<path d="M293.44 469.8L281.2 456.2M284.7 457.91L281.2 456.2L282.53 459.87Z"/>
<path d="M296.69 469.8L285.86 458.97M289.45 460.5L285.86 458.97L287.38 462.56Z"/>
<path d="M299.93 469.8L290.63 460.83M294.25 462.29L290.63 460.83L292.22 464.39Z"/>
<path d="M303.17 469.8L296.1 459.71M299.37 461.83L296.1 459.71L296.98 463.51Z"/>
<path d="M306.41 469.8L300.9 456.81M303.65 459.56L300.9 456.81L300.96 460.71Z"/>
<path d="M309.65 469.8L301.8 455.62M304.83 458.08L301.8 455.62L302.27 459.5Z"/>
<path d="M312.9 469.8L297.9 459.3M301.7 460.18L297.9 459.3L300.03 462.57Z"/>
<path d="M316.14 469.8L295.77 468.73M299.46 467.46L295.77 468.73L299.31 470.38Z"/>
<path d="M319.38 469.8L297.19 469.8M300.81 468.34L297.19 469.8L300.81 471.26Z"/>
<path d="M322.62 469.8L300.75 470.56M304.31 468.98L300.75 470.56L304.41 471.9Z"/>
<path d="M325.86 469.8L306.71 471.14M310.22 469.43L306.71 471.14L310.42 472.34Z"/>
<path d="M329.1 469.8L315.13 471.76M318.5 469.81L315.13 471.76L318.91 472.71Z"/>
<path d="M332.35 469.8L324.04 472.5M327.03 469.99L324.04 472.5L327.93 472.77Z"/>
<path d="M335.59 469.8L331.65 472.08M334.05 469L331.65 472.08L335.51 471.53Z"/>
<path d="M338.83 469.8L336.35 470.7M339.25 468.09L336.35 470.7L340.25 470.84Z"/>
<path d="M342.07 469.8L338.08 468.35M341.98 468.21L338.08 468.35L340.98 470.96Z"/>
<path d="M345.31 469.8L341.25 462.75M344.32 465.15L341.25 462.75L341.79 466.62Z"/>
<path d="M348.56 469.8L344.14 457.66M346.75 460.56L344.14 457.66L344 461.56Z"/>
<path d="M351.8 469.8L346.25 454.57M348.86 457.47L346.25 454.57L346.12 458.47Z"/>
<path d="M355.04 469.8L348.01 454.73M350.87 457.39L348.01 454.73L348.22 458.63Z"/>
<path d="M358.28 469.8L347.96 455.05M351.23 457.18L347.96 455.05L348.83 458.85Z"/>
<path d="M361.52 469.8L346.08 452.65M349.58 454.36L346.08 452.65L347.41 456.31Z"/>
<path d="M364.77 469.8L344.73 452.38M348.42 453.65L344.73 452.38L346.5 455.86Z"/>
<path d="M368.01 469.8L348.49 453.43M352.2 454.63L348.49 453.43L350.32 456.87Z"/>
<path d="M371.25 469.8L354.9 455.08M358.57 456.41L354.9 455.08L356.61 458.58Z"/>
<path d="M374.49 469.8L359.64 454.95M363.23 456.47L359.64 454.95L361.17 458.54Z"/>
<path d="M377.73 469.8L364.23 453.71M367.68 455.54L364.23 453.71L365.44 457.42Z"/>
<path d="M380.98 469.8L367.32 452.94M370.73 454.83L367.32 452.94L368.46 456.67Z"/>
<path d="M384.22 469.8L370.44 452.78M373.85 454.67L370.44 452.78L371.58 456.51Z"/>
<path d="M387.46 469.8L373.8 452.94M377.21 454.83L373.8 452.94L374.94 456.67Z"/>
<path d="M390.7 469.8L370.08 455.89M373.89 456.7L370.08 455.89L372.26 459.12Z"/>
<path d="M393.94 469.8L367.67 458.1M371.57 458.24L367.67 458.1L370.38 460.91Z"/>
<path d="M397.19 469.8L368.01 459.75M371.91 459.55L368.01 459.75L370.95 462.31Z"/>
<path d="M400.43 469.8L371.2 461.97M375.07 461.49L371.2 461.97L374.32 464.32Z"/>
<path d="M403.67 469.8L375.76 462.84M379.62 462.3L375.76 462.84L378.92 465.13Z"/>
<path d="M406.91 469.8L380.24 462.15M384.12 461.74L380.24 462.15L383.31 464.55Z"/>
<path d="M410.15 469.8L385.97 456.94M389.85 457.35L385.97 456.94L388.48 459.93Z"/>
<path d="M413.39 469.8L389.8 453.88M393.61 454.69L389.8 453.88L391.98 457.12Z"/>
<path d="M416.64 469.8L391.55 452.88M395.37 453.69L391.55 452.88L393.73 456.11Z"/>
<path d="M419.88 469.8L393.6 452.74M397.43 453.48L393.6 452.74L395.84 455.93Z"/>
<path d="M423.12 469.8L396.19 452.97M400.03 453.65L396.19 452.97L398.49 456.13Z"/>
<path d="M426.36 469.8L400.94 455.12M404.8 455.66L400.94 455.12L403.34 458.19Z"/>
<path d="M429.6 469.8L407.8 457.21M411.66 457.76L407.8 457.21L410.2 460.29Z"/>
<path d="M432.85 469.8L414.21 457.23M418.02 458.04L414.21 457.23L416.39 460.46Z"/>
<path d="M436.09 469.8L416.46 455.01M420.23 456.02L416.46 455.01L418.47 458.35Z"/>
<path d="M439.33 469.8L418.58 451.38M422.26 452.69L418.58 451.38L420.32 454.87Z"/>
<path d="M442.57 469.8L420.82 452.19M424.55 453.33L420.82 452.19L422.71 455.6Z"/>
<path d="M445.81 469.8L425.27 453.75M429.02 454.82L425.27 453.75L427.22 457.13Z"/>
<path d="M449.06 469.8L430.87 455.59M434.62 456.66L430.87 455.59L432.82 458.97Z"/>
<path d="M452.3 469.8L436.35 456.61M440.07 457.79L436.35 456.61L438.21 460.04Z"/>
<path d="M455.54 469.8L440.96 456.67M444.63 458.01L440.96 456.67L442.67 460.18Z"/>
<path d="M458.78 469.8L444.74 455.26M448.3 456.85L444.74 455.26L446.2 458.88Z"/>
<path d="M462.02 469.8L448.53 453.72M451.97 455.55L448.53 453.72L449.74 457.43Z"/>
<path d="M465.27 469.8L451.27 453.13M454.72 454.96L451.27 453.13L452.48 456.83Z"/>
<path d="M468.51 469.8L451.05 455.15M454.76 456.36L451.05 455.15L452.88 458.6Z"/>
<path d="M471.75 469.8L449.69 457.06M453.55 457.61L449.69 457.06L452.09 460.14Z"/>
<path d="M474.99 469.8L448.92 460.31M452.82 460.17L448.92 460.31L451.82 462.92Z"/>
<path d="M478.23 469.8L450.98 464.01M454.82 463.33L450.98 464.01L454.21 466.19Z"/>
<path d="M481.47 469.8L456.84 466.34M460.62 465.39L456.84 466.34L460.22 468.29Z"/>
<path d="M484.72 469.8L463.34 466.8M467.12 465.85L463.34 466.8L466.72 468.75Z"/>
<path d="M487.96 469.8L469.47 465.87M473.31 465.19L469.47 465.87L472.71 468.05Z"/>
<path d="M491.2 469.8L475.12 463.63M479.02 463.56L475.12 463.63L477.97 466.29Z"/>
<path d="M494.44 469.8L479.23 461.71M483.11 462.12L479.23 461.71L481.74 464.7Z"/>
<path d="M497.68 469.8L484.52 457.09M488.14 458.55L484.52 457.09L486.11 460.65Z"/>
<path d="M500.93 469.8L491.18 452.92M494.25 455.32L491.18 452.92L491.72 456.78Z"/>
<path d="M504.17 469.8L494 453.52M497.15 455.81L494 453.52L494.67 457.36Z"/>
<path d="M507.41 469.8L496.85 454.71M500.12 456.84L496.85 454.71L497.72 458.51Z"/>
<path d="M510.65 469.8L497.91 453.49M501.29 455.44L497.91 453.49L498.99 457.24Z"/>
<path d="M513.89 469.8L496.85 450.87M500.35 452.58L496.85 450.87L498.18 454.53Z"/>
<path d="M517.14 469.8L496.38 449.04M499.97 450.56L496.38 449.04L497.9 452.63Z"/>
<path d="M520.38 469.8L497.89 449.55M501.56 450.89L497.89 449.55L499.6 453.06Z"/>
<path d="M523.62 469.8L501.82 451.5M505.52 452.71L501.82 451.5L503.65 454.95Z"/>
<path d="M526.86 469.8L507.49 454.67M511.24 455.74L507.49 454.67L509.44 458.05Z"/>
<path d="M530.1 469.8L513.56 456.88M517.31 457.95L513.56 456.88L515.51 460.25Z"/>
<path d="M533.35 469.8L518.64 457.46M522.35 458.67L518.64 457.46L520.47 460.9Z"/>
<path d="M536.59 469.8L522.9 457.47M526.56 458.81L522.9 457.47L524.61 460.98Z"/>
<path d="M539.83 469.8L526.75 457.17M530.37 458.63L526.75 457.17L528.34 460.73Z"/>
<path d="M543.07 469.8L528.37 457.46M532.07 458.67L528.37 457.46L530.2 460.9Z"/>
<path d="M546.31 469.8L527.62 459.01M531.48 459.55L527.62 459.01L530.02 462.08Z"/>
<path d="M549.56 469.8L527.03 462.48M530.92 462.21L527.03 462.48L530.02 464.99Z"/>
<path d="M552.8 469.8L529.01 465.6M532.82 464.79L529.01 465.6L532.31 467.67Z"/>
<path d="M556.04 469.8L533.61 468.23M537.32 467.03L533.61 468.23L537.11 469.94Z"/>
<path d="M559.28 469.8L539.51 470.84M543.05 469.19L539.51 470.84L543.2 472.11Z"/>
<path d="M562.52 469.8L545.74 470.68M549.27 469.03L545.74 470.68L549.43 471.95Z"/>
<path d="M565.76 469.8L551.37 469.05M555.06 467.78L551.37 469.05L554.9 470.69Z"/>
<path d="M569.01 469.8L556.97 467.79M560.78 466.94L556.97 467.79L560.3 469.82Z"/>
<path d="M572.25 469.8L562.16 465.1M566.06 465.3L562.16 465.1L564.82 467.95Z"/>
<path d="M575.49 469.8L565.59 461.5M569.3 462.7L565.59 461.5L567.42 464.94Z"/>
<path d="M578.73 469.8L568.49 458.42M571.99 460.13L568.49 458.42L569.82 462.09Z"/>
<path d="M581.97 469.8L570.61 457.18M574.11 458.89L570.61 457.18L571.94 460.84Z"/>
<path d="M585.22 469.8L573.26 456.75M576.78 458.43L573.26 456.75L574.62 460.4Z"/>
<path d="M588.46 469.8L575.42 457.65M579.06 459.04L575.42 457.65L577.07 461.18Z"/>
<path d="M591.7 469.8L578.17 458.85M581.9 459.99L578.17 458.85L580.07 462.26Z"/>
</g>
<polyline points="50.3,485.82 53.54,480.33 56.78,473.47 60.03,470.04 63.27,473.47 66.51,476.9 69.75,479.65 72.99,485.82 76.24,489.25 79.48,486.51 82.72,484.86 85.96,485.41 89.2,487.61 92.44,489.25 95.69,487.88 98.93,485.14 102.17,482.8 105.41,482.39 108.65,484.86 111.9,487.88 115.14,492.69 118.38,499.55 121.62,504.63 124.86,504.35 128.11,503.46 131.35,505.73 134.59,508.88 137.83,508.75 141.07,506 144.32,504.76 147.56,506.41 150.8,506.82 154.04,506 157.28,505.31 160.53,502.29 163.77,495.43 167.01,488.57 170.25,483.76 173.49,479.65 176.73,474.84 179.98,472.78 183.22,476.22 186.46,479.65 189.7,478.96 192.94,485.14 196.19,497.49 199.43,503.25 202.67,504.63 205.91,505.38 209.15,507.1 212.4,509.16 215.64,510.53 218.88,509.16 222.12,508.75 225.36,509.57 228.61,509.16 231.85,507.37 235.09,502.98 238.33,498.18 241.57,494.75 244.81,492.69 248.06,487.88 251.3,480.33 254.54,474.43 257.78,473.88 261.02,475.25 264.27,475.25 267.51,475.53 270.75,477.59 273.99,478.27 277.23,474.84 280.48,471.69 283.72,473.26 286.96,472.65 290.2,469.35 293.44,472.78 296.69,479.65 299.93,485.14 303.17,486.51 306.41,482.39 309.65,477.59 312.9,472.78 316.14,467.98 319.38,463.86 322.62,464.55 325.86,470.73 329.1,482.39 332.35,494.75 335.59,504.35 338.83,508.75 342.07,505.04 345.31,496.12 348.56,485.14 351.8,477.59 355.04,476.63 358.28,473.47 361.52,461.8 364.77,453.84 368.01,456.31 371.25,465.92 374.49,474.16 377.73,476.22 380.98,474.84 384.22,472.1 387.46,465.92 390.7,457.69 393.94,448.76 397.19,443.96 400.43,445.33 403.67,448.76 406.91,451.1 410.15,451.92 413.39,449.45 416.64,445.33 419.88,442.86 423.12,441.9 426.36,447.39 429.6,457 432.85,463.18 436.09,458.37 439.33,451.1 442.57,450.55 445.81,454.94 449.06,461.8 452.3,467.29 455.54,469.76 458.78,468.39 462.02,466.61 465.27,464.82 468.51,462.49 471.75,456.31 474.99,451.1 478.23,450.82 481.47,457.69 484.72,465.24 487.96,471.41 491.2,475.25 494.44,475.25 497.68,472.78 500.93,470.04 504.17,470.73 507.41,472.51 510.65,467.29 513.89,456.31 517.14,447.39 520.38,445.33 523.62,449.45 526.86,458.37 530.1,466.61 533.35,470.73 536.59,472.51 539.83,473.06 543.07,470.73 546.31,465.24 549.56,460.43 552.8,459.33 556.04,463.18 559.28,469.35 562.52,476.22 565.76,481.71 569.01,486.78 572.25,489.25 575.49,485.14 578.73,479.65 581.97,475.8 585.22,474.16 588.46,473.88 591.7,474.84" fill="none" stroke="#1e3cff" stroke-width="1.35" stroke-linejoin="round" stroke-linecap="round"/>
</g>
<rect x="50.3" y="424.8" width="541.4" height="90" fill="none" stroke="#000" stroke-width="1.45"/>
<line x1="46.7" y1="514.8" x2="50.3" y2="514.8" stroke="#000" stroke-width="1.45"/>
<text x="43.8" y="518.8" font-size="10.5" fill="#000" text-anchor="end" stroke="#000" stroke-width="0.5" letter-spacing="0.45">0</text>
<line x1="46.7" y1="492.3" x2="50.3" y2="492.3" stroke="#000" stroke-width="1.45"/>
<text x="43.8" y="496.3" font-size="10.5" fill="#000" text-anchor="end" stroke="#000" stroke-width="0.5" letter-spacing="0.45">2</text>
<line x1="46.7" y1="469.8" x2="50.3" y2="469.8" stroke="#000" stroke-width="1.45"/>
<text x="43.8" y="473.8" font-size="10.5" fill="#000" text-anchor="end" stroke="#000" stroke-width="0.5" letter-spacing="0.45">4</text>
<line x1="46.7" y1="447.3" x2="50.3" y2="447.3" stroke="#000" stroke-width="1.45"/>
<text x="43.8" y="451.3" font-size="10.5" fill="#000" text-anchor="end" stroke="#000" stroke-width="0.5" letter-spacing="0.45">6</text>
<line x1="46.7" y1="424.8" x2="50.3" y2="424.8" stroke="#000" stroke-width="1.45"/>
<text x="43.8" y="428.8" font-size="10.5" fill="#000" text-anchor="end" stroke="#000" stroke-width="0.5" letter-spacing="0.45">8</text>
<line x1="50.3" y1="514.8" x2="50.3" y2="518.6" stroke="#000" stroke-width="1.45"/>
<text x="38.3" y="528.5" font-size="10.5" fill="#000" text-anchor="start" textLength="24.4" lengthAdjust="spacingAndGlyphs" stroke="#000" stroke-width="0.45">7APR</text>
<line x1="128.11" y1="514.8" x2="128.11" y2="518.6" stroke="#000" stroke-width="1.45"/>
<text x="116.11" y="528.5" font-size="10.5" fill="#000" text-anchor="start" textLength="24.4" lengthAdjust="spacingAndGlyphs" stroke="#000" stroke-width="0.45">8APR</text>
<line x1="205.91" y1="514.8" x2="205.91" y2="518.6" stroke="#000" stroke-width="1.45"/>
<text x="193.91" y="528.5" font-size="10.5" fill="#000" text-anchor="start" textLength="24.4" lengthAdjust="spacingAndGlyphs" stroke="#000" stroke-width="0.45">9APR</text>
<line x1="283.72" y1="514.8" x2="283.72" y2="518.6" stroke="#000" stroke-width="1.45"/>
<text x="268.62" y="528.5" font-size="10.5" fill="#000" text-anchor="start" textLength="30.6" lengthAdjust="spacingAndGlyphs" stroke="#000" stroke-width="0.45">10APR</text>
<line x1="361.52" y1="514.8" x2="361.52" y2="518.6" stroke="#000" stroke-width="1.45"/>
<text x="346.42" y="528.5" font-size="10.5" fill="#000" text-anchor="start" textLength="30.6" lengthAdjust="spacingAndGlyphs" stroke="#000" stroke-width="0.45">11APR</text>
<line x1="439.33" y1="514.8" x2="439.33" y2="518.6" stroke="#000" stroke-width="1.45"/>
<text x="424.23" y="528.5" font-size="10.5" fill="#000" text-anchor="start" textLength="30.6" lengthAdjust="spacingAndGlyphs" stroke="#000" stroke-width="0.45">12APR</text>
<line x1="517.14" y1="514.8" x2="517.14" y2="518.6" stroke="#000" stroke-width="1.45"/>
<text x="502.04" y="528.5" font-size="10.5" fill="#000" text-anchor="start" textLength="30.6" lengthAdjust="spacingAndGlyphs" stroke="#000" stroke-width="0.45">13APR</text>
<text x="38" y="539.1" font-size="10.5" fill="#000" text-anchor="start" textLength="24.2" lengthAdjust="spacingAndGlyphs" stroke="#000" stroke-width="0.45">2026</text>
<line x1="50.3" y1="514.8" x2="591.7" y2="514.8" stroke="#c4c4c4" stroke-width="1.25" stroke-dasharray="1.5 4.98" stroke-dashoffset="0.53"/>
<line x1="50.3" y1="492.3" x2="591.7" y2="492.3" stroke="#989898" stroke-width="1.25" stroke-dasharray="1.5 4.98" stroke-dashoffset="0.53"/>
<line x1="50.3" y1="469.8" x2="591.7" y2="469.8" stroke="#989898" stroke-width="1.25" stroke-dasharray="1.5 4.98" stroke-dashoffset="0.53"/>
<line x1="50.3" y1="447.3" x2="591.7" y2="447.3" stroke="#989898" stroke-width="1.25" stroke-dasharray="1.5 4.98" stroke-dashoffset="0.53"/>
<line x1="50.3" y1="424.8" x2="591.7" y2="424.8" stroke="#c4c4c4" stroke-width="1.25" stroke-dasharray="1.5 4.98" stroke-dashoffset="0.53"/>
<line x1="50.3" y1="424.8" x2="50.3" y2="514.8" stroke="#c4c4c4" stroke-width="1.25" stroke-dasharray="1.5 4.93" stroke-dashoffset="-4.85"/>
<line x1="128.11" y1="424.8" x2="128.11" y2="514.8" stroke="#989898" stroke-width="1.25" stroke-dasharray="1.5 4.93" stroke-dashoffset="-4.85"/>
<line x1="205.91" y1="424.8" x2="205.91" y2="514.8" stroke="#989898" stroke-width="1.25" stroke-dasharray="1.5 4.93" stroke-dashoffset="-4.85"/>
<line x1="283.72" y1="424.8" x2="283.72" y2="514.8" stroke="#989898" stroke-width="1.25" stroke-dasharray="1.5 4.93" stroke-dashoffset="-4.85"/>
<line x1="361.52" y1="424.8" x2="361.52" y2="514.8" stroke="#989898" stroke-width="1.25" stroke-dasharray="1.5 4.93" stroke-dashoffset="-4.85"/>
<line x1="439.33" y1="424.8" x2="439.33" y2="514.8" stroke="#989898" stroke-width="1.25" stroke-dasharray="1.5 4.93" stroke-dashoffset="-4.85"/>
<line x1="517.14" y1="424.8" x2="517.14" y2="514.8" stroke="#989898" stroke-width="1.25" stroke-dasharray="1.5 4.93" stroke-dashoffset="-4.85"/>
<text x="72.5" y="422.2" font-size="15.0" fill="#000" text-anchor="start" textLength="36.5" lengthAdjust="spacingAndGlyphs" stroke="#000" stroke-width="0.4">Vento</text>
<text x="118" y="422.2" font-size="15.0" fill="#000" text-anchor="start" textLength="19.3" lengthAdjust="spacingAndGlyphs" stroke="#000" stroke-width="0.4">em</text>
<text x="147.4" y="422.2" font-size="15.0" fill="#000" text-anchor="start" textLength="27.5" lengthAdjust="spacingAndGlyphs" stroke="#000" stroke-width="0.4">10m</text>
<text x="184.9" y="422.2" font-size="15.0" fill="#000" text-anchor="start" textLength="17.6" lengthAdjust="spacingAndGlyphs" stroke="#000" stroke-width="0.4">(m</text>
<text x="214.3" y="422.2" font-size="15.0" fill="#000" text-anchor="start" textLength="10.4" lengthAdjust="spacingAndGlyphs" stroke="#000" stroke-width="0.4">s)</text>
<line x1="204.4" y1="424.6" x2="213.2" y2="409.8" stroke="#000" stroke-width="1.5"/>
<clipPath id="c4"><rect x="50.3" y="550.8" width="541.4" height="90"/></clipPath>
<g clip-path="url(#c4)">
<polyline points="50.3,593.98 53.54,584.37 56.78,581.22 60.03,583.69 63.27,591.92 66.51,594.94 69.75,593.57 72.99,585.33 76.24,585.33 79.48,582.31 82.72,579.29 85.96,577.92 89.2,573.39 92.44,577.51 95.69,592.61 98.93,599.47 102.17,598.1 105.41,609.08 108.65,611.14 111.9,617.31 115.14,611.82 118.38,613.61 121.62,609.08 124.86,602.22 128.11,597.27 131.35,595.15 134.59,598.1 137.83,596.31 141.07,596.04 144.32,597.41 147.56,606.33 150.8,610.45 154.04,606.33 157.28,606.75 160.53,611.82 163.77,606.33 167.01,600.84 170.25,599.47 173.49,607.71 176.73,614.57 179.98,618 183.22,625.55 186.46,632.82 189.7,633.37 192.94,626.24 196.19,621.43 199.43,618 202.67,617.73 205.91,616.49 209.15,612.37 212.4,613.88 215.64,609.76 218.88,602.9 222.12,607.71 225.36,613.88 228.61,615.94 231.85,612.24 235.09,611.41 238.33,610.73 241.57,604.96 244.81,602.49 248.06,603.59 251.3,608.8 254.54,611.82 257.78,611.82 261.02,620.75 264.27,629.67 267.51,634.2 270.75,632.82 273.99,632 277.23,628.98 280.48,619.37 283.72,610.45 286.96,605.65 290.2,603.86 293.44,598.78 296.69,593.71 299.93,596.04 303.17,600.84 306.41,603.18 309.65,599.88 312.9,599.2 316.14,598.51 319.38,593.98 322.62,589.59 325.86,588.9 329.1,595.35 332.35,598.78 335.59,600.84 338.83,608.39 342.07,614.57 345.31,619.1 348.56,618 351.8,617.31 355.04,616.35 358.28,607.71 361.52,595.35 364.77,589.45 368.01,589.18 371.25,584.78 374.49,577.1 377.73,580.94 380.98,585.33 384.22,585.33 387.46,579.84 390.7,577.78 393.94,577.1 397.19,569.96 400.43,566.25 403.67,567.22 406.91,570.37 410.15,570.65 413.39,571.75 416.64,578.88 419.88,585.06 423.12,587.39 426.36,581.63 429.6,581.35 432.85,580.94 436.09,576.14 439.33,568.59 442.57,563.78 445.81,566.25 449.06,563.37 452.3,558.29 455.54,563.78 458.78,569.96 462.02,570.24 465.27,566.94 468.51,564.75 471.75,565.16 474.99,560.08 478.23,555.55 481.47,556.92 484.72,565.16 487.96,569.96 491.2,572.98 494.44,580.94 497.68,589.18 500.93,592.2 504.17,591.65 507.41,594.67 510.65,594.39 513.89,584.37 517.14,575.45 520.38,568.11 523.62,572.43 526.86,569.96 530.1,566.53 533.35,571.06 536.59,579.57 539.83,580.67 543.07,577.24 546.31,577.78 549.56,578.88 552.8,574.35 556.04,571.61 559.28,574.76 562.52,582.31 565.76,586.84 569.01,589.18 572.25,596.73 575.49,604.96 578.73,612.24 581.97,611.14 585.22,610.86 588.46,608.39 591.7,599.47" fill="none" stroke="#1e3cff" stroke-width="1.35" stroke-linejoin="round" stroke-linecap="round"/>
</g>
<rect x="50.3" y="550.8" width="541.4" height="90" fill="none" stroke="#000" stroke-width="1.45"/>
<line x1="46.7" y1="633.3" x2="50.3" y2="633.3" stroke="#000" stroke-width="1.45"/>
<text x="44.25" y="637.3" font-size="10.5" fill="#000" text-anchor="end" stroke="#000" stroke-width="0.5" letter-spacing="0.45">1010</text>
<line x1="46.7" y1="618.3" x2="50.3" y2="618.3" stroke="#000" stroke-width="1.45"/>
<text x="44.25" y="622.3" font-size="10.5" fill="#000" text-anchor="end" stroke="#000" stroke-width="0.5" letter-spacing="0.45">1012</text>
<line x1="46.7" y1="603.3" x2="50.3" y2="603.3" stroke="#000" stroke-width="1.45"/>
<text x="44.25" y="607.3" font-size="10.5" fill="#000" text-anchor="end" stroke="#000" stroke-width="0.5" letter-spacing="0.45">1014</text>
<line x1="46.7" y1="588.3" x2="50.3" y2="588.3" stroke="#000" stroke-width="1.45"/>
<text x="44.25" y="592.3" font-size="10.5" fill="#000" text-anchor="end" stroke="#000" stroke-width="0.5" letter-spacing="0.45">1016</text>
<line x1="46.7" y1="573.3" x2="50.3" y2="573.3" stroke="#000" stroke-width="1.45"/>
<text x="44.25" y="577.3" font-size="10.5" fill="#000" text-anchor="end" stroke="#000" stroke-width="0.5" letter-spacing="0.45">1018</text>
<line x1="46.7" y1="558.3" x2="50.3" y2="558.3" stroke="#000" stroke-width="1.45"/>
<text x="44.25" y="562.3" font-size="10.5" fill="#000" text-anchor="end" stroke="#000" stroke-width="0.5" letter-spacing="0.45">1020</text>
<line x1="50.3" y1="640.8" x2="50.3" y2="644.6" stroke="#000" stroke-width="1.45"/>
<text x="38.3" y="654.5" font-size="10.5" fill="#000" text-anchor="start" textLength="24.4" lengthAdjust="spacingAndGlyphs" stroke="#000" stroke-width="0.45">7APR</text>
<line x1="128.11" y1="640.8" x2="128.11" y2="644.6" stroke="#000" stroke-width="1.45"/>
<text x="116.11" y="654.5" font-size="10.5" fill="#000" text-anchor="start" textLength="24.4" lengthAdjust="spacingAndGlyphs" stroke="#000" stroke-width="0.45">8APR</text>
<line x1="205.91" y1="640.8" x2="205.91" y2="644.6" stroke="#000" stroke-width="1.45"/>
<text x="193.91" y="654.5" font-size="10.5" fill="#000" text-anchor="start" textLength="24.4" lengthAdjust="spacingAndGlyphs" stroke="#000" stroke-width="0.45">9APR</text>
<line x1="283.72" y1="640.8" x2="283.72" y2="644.6" stroke="#000" stroke-width="1.45"/>
<text x="268.62" y="654.5" font-size="10.5" fill="#000" text-anchor="start" textLength="30.6" lengthAdjust="spacingAndGlyphs" stroke="#000" stroke-width="0.45">10APR</text>
<line x1="361.52" y1="640.8" x2="361.52" y2="644.6" stroke="#000" stroke-width="1.45"/>
<text x="346.42" y="654.5" font-size="10.5" fill="#000" text-anchor="start" textLength="30.6" lengthAdjust="spacingAndGlyphs" stroke="#000" stroke-width="0.45">11APR</text>
<line x1="439.33" y1="640.8" x2="439.33" y2="644.6" stroke="#000" stroke-width="1.45"/>
<text x="424.23" y="654.5" font-size="10.5" fill="#000" text-anchor="start" textLength="30.6" lengthAdjust="spacingAndGlyphs" stroke="#000" stroke-width="0.45">12APR</text>
<line x1="517.14" y1="640.8" x2="517.14" y2="644.6" stroke="#000" stroke-width="1.45"/>
<text x="502.04" y="654.5" font-size="10.5" fill="#000" text-anchor="start" textLength="30.6" lengthAdjust="spacingAndGlyphs" stroke="#000" stroke-width="0.45">13APR</text>
<text x="38" y="665.1" font-size="10.5" fill="#000" text-anchor="start" textLength="24.2" lengthAdjust="spacingAndGlyphs" stroke="#000" stroke-width="0.45">2026</text>
<line x1="50.3" y1="633.3" x2="591.7" y2="633.3" stroke="#989898" stroke-width="1.25" stroke-dasharray="1.5 4.98" stroke-dashoffset="0.53"/>
<line x1="50.3" y1="618.3" x2="591.7" y2="618.3" stroke="#989898" stroke-width="1.25" stroke-dasharray="1.5 4.98" stroke-dashoffset="0.53"/>
<line x1="50.3" y1="603.3" x2="591.7" y2="603.3" stroke="#989898" stroke-width="1.25" stroke-dasharray="1.5 4.98" stroke-dashoffset="0.53"/>
<line x1="50.3" y1="588.3" x2="591.7" y2="588.3" stroke="#989898" stroke-width="1.25" stroke-dasharray="1.5 4.98" stroke-dashoffset="0.53"/>
<line x1="50.3" y1="573.3" x2="591.7" y2="573.3" stroke="#989898" stroke-width="1.25" stroke-dasharray="1.5 4.98" stroke-dashoffset="0.53"/>
<line x1="50.3" y1="558.3" x2="591.7" y2="558.3" stroke="#989898" stroke-width="1.25" stroke-dasharray="1.5 4.98" stroke-dashoffset="0.53"/>
<line x1="50.3" y1="550.8" x2="50.3" y2="640.8" stroke="#c4c4c4" stroke-width="1.25" stroke-dasharray="1.5 4.93" stroke-dashoffset="-4.85"/>
<line x1="128.11" y1="550.8" x2="128.11" y2="640.8" stroke="#989898" stroke-width="1.25" stroke-dasharray="1.5 4.93" stroke-dashoffset="-4.85"/>
<line x1="205.91" y1="550.8" x2="205.91" y2="640.8" stroke="#989898" stroke-width="1.25" stroke-dasharray="1.5 4.93" stroke-dashoffset="-4.85"/>
<line x1="283.72" y1="550.8" x2="283.72" y2="640.8" stroke="#989898" stroke-width="1.25" stroke-dasharray="1.5 4.93" stroke-dashoffset="-4.85"/>
<line x1="361.52" y1="550.8" x2="361.52" y2="640.8" stroke="#989898" stroke-width="1.25" stroke-dasharray="1.5 4.93" stroke-dashoffset="-4.85"/>
<line x1="439.33" y1="550.8" x2="439.33" y2="640.8" stroke="#989898" stroke-width="1.25" stroke-dasharray="1.5 4.93" stroke-dashoffset="-4.85"/>
<line x1="517.14" y1="550.8" x2="517.14" y2="640.8" stroke="#989898" stroke-width="1.25" stroke-dasharray="1.5 4.93" stroke-dashoffset="-4.85"/>
<text x="72.3" y="548.6" font-size="15.0" fill="#000" text-anchor="start" textLength="52.7" lengthAdjust="spacingAndGlyphs" stroke="#000" stroke-width="0.4">Pressao</text>
<text x="134.8" y="548.6" font-size="15.0" fill="#000" text-anchor="start" textLength="13.9" lengthAdjust="spacingAndGlyphs" stroke="#000" stroke-width="0.4">ao</text>
<text x="158" y="548.6" font-size="15.0" fill="#000" text-anchor="start" textLength="30" lengthAdjust="spacingAndGlyphs" stroke="#000" stroke-width="0.4">Nivel</text>
<text x="197.4" y="548.6" font-size="15.0" fill="#000" text-anchor="start" textLength="36.7" lengthAdjust="spacingAndGlyphs" stroke="#000" stroke-width="0.4">Medio</text>
<text x="243.4" y="548.6" font-size="15.0" fill="#000" text-anchor="start" textLength="14" lengthAdjust="spacingAndGlyphs" stroke="#000" stroke-width="0.4">do</text>
<text x="267.2" y="548.6" font-size="15.0" fill="#000" text-anchor="start" textLength="23.3" lengthAdjust="spacingAndGlyphs" stroke="#000" stroke-width="0.4">Mar</text>
<text x="299.6" y="548.6" font-size="15.0" fill="#000" text-anchor="start" textLength="36.7" lengthAdjust="spacingAndGlyphs" stroke="#000" stroke-width="0.4">(hPa)</text>
<clipPath id="c5"><rect x="50.3" y="676.8" width="541.4" height="90"/></clipPath>
<g clip-path="url(#c5)">
<g fill="#f08228" fill-opacity="0.42" stroke="#f08228" stroke-width="1.1">
<rect x="49.27" y="766.8" width="2.05" height="0"/>
<rect x="52.52" y="766.8" width="2.05" height="0"/>
<rect x="55.76" y="766.8" width="2.05" height="0"/>
<rect x="59" y="766.8" width="2.05" height="0"/>
<rect x="62.24" y="766.8" width="2.05" height="0"/>
<rect x="65.48" y="766.8" width="2.05" height="0"/>
<rect x="68.73" y="756.36" width="2.05" height="10.44"/>
<rect x="71.97" y="743.4" width="2.05" height="23.4"/>
<rect x="75.21" y="761.85" width="2.05" height="4.95"/>
<rect x="78.45" y="766.8" width="2.05" height="0"/>
<rect x="81.69" y="766.8" width="2.05" height="0"/>
<rect x="84.94" y="766.8" width="2.05" height="0"/>
<rect x="88.18" y="766.8" width="2.05" height="0"/>
<rect x="91.42" y="766.8" width="2.05" height="0"/>
<rect x="94.66" y="747" width="2.05" height="19.8"/>
<rect x="97.9" y="709.2" width="2.05" height="57.6"/>
<rect x="101.15" y="683.1" width="2.05" height="83.7"/>
<rect x="104.39" y="684.9" width="2.05" height="81.9"/>
<rect x="107.63" y="676.8" width="2.05" height="90"/>
<rect x="110.87" y="676.8" width="2.05" height="90"/>
<rect x="114.11" y="676.8" width="2.05" height="90"/>
<rect x="117.36" y="695.7" width="2.05" height="71.1"/>
<rect x="120.6" y="701.55" width="2.05" height="65.25"/>
<rect x="123.84" y="676.8" width="2.05" height="90"/>
<rect x="127.08" y="676.8" width="2.05" height="90"/>
<rect x="130.32" y="676.8" width="2.05" height="90"/>
<rect x="133.56" y="676.8" width="2.05" height="90"/>
<rect x="136.81" y="676.8" width="2.05" height="90"/>
<rect x="140.05" y="676.8" width="2.05" height="90"/>
<rect x="143.29" y="676.8" width="2.05" height="90"/>
<rect x="146.53" y="676.8" width="2.05" height="90"/>
<rect x="149.77" y="676.8" width="2.05" height="90"/>
<rect x="153.02" y="676.8" width="2.05" height="90"/>
<rect x="156.26" y="676.8" width="2.05" height="90"/>
<rect x="159.5" y="676.8" width="2.05" height="90"/>
<rect x="162.74" y="727.2" width="2.05" height="39.6"/>
<rect x="165.98" y="679.5" width="2.05" height="87.3"/>
<rect x="169.23" y="676.8" width="2.05" height="90"/>
<rect x="172.47" y="676.8" width="2.05" height="90"/>
<rect x="175.71" y="676.8" width="2.05" height="90"/>
<rect x="178.95" y="676.8" width="2.05" height="90"/>
<rect x="182.19" y="676.8" width="2.05" height="90"/>
<rect x="185.44" y="684" width="2.05" height="82.8"/>
<rect x="188.68" y="676.8" width="2.05" height="90"/>
<rect x="191.92" y="676.8" width="2.05" height="90"/>
<rect x="195.16" y="678.6" width="2.05" height="88.2"/>
<rect x="198.4" y="688.5" width="2.05" height="78.3"/>
<rect x="201.65" y="743.4" width="2.05" height="23.4"/>
<rect x="204.89" y="766.8" width="2.05" height="0"/>
<rect x="208.13" y="766.8" width="2.05" height="0"/>
<rect x="211.37" y="766.8" width="2.05" height="0"/>
<rect x="214.61" y="766.8" width="2.05" height="0"/>
<rect x="217.85" y="766.8" width="2.05" height="0"/>
<rect x="221.1" y="766.8" width="2.05" height="0"/>
<rect x="224.34" y="766.8" width="2.05" height="0"/>
<rect x="227.58" y="766.8" width="2.05" height="0"/>
<rect x="230.82" y="766.8" width="2.05" height="0"/>
<rect x="234.06" y="766.8" width="2.05" height="0"/>
<rect x="237.31" y="766.8" width="2.05" height="0"/>
<rect x="240.55" y="766.8" width="2.05" height="0"/>
<rect x="243.79" y="766.8" width="2.05" height="0"/>
<rect x="247.03" y="766.8" width="2.05" height="0"/>
<rect x="250.27" y="766.8" width="2.05" height="0"/>
<rect x="253.52" y="766.8" width="2.05" height="0"/>
<rect x="256.76" y="766.8" width="2.05" height="0"/>
<rect x="260" y="766.8" width="2.05" height="0"/>
<rect x="263.24" y="766.8" width="2.05" height="0"/>
<rect x="266.48" y="766.8" width="2.05" height="0"/>
<rect x="269.73" y="766.8" width="2.05" height="0"/>
<rect x="272.97" y="766.8" width="2.05" height="0"/>
<rect x="276.21" y="766.8" width="2.05" height="0"/>
<rect x="279.45" y="766.8" width="2.05" height="0"/>
<rect x="282.69" y="766.8" width="2.05" height="0"/>
<rect x="285.93" y="766.8" width="2.05" height="0"/>
<rect x="289.18" y="766.8" width="2.05" height="0"/>
<rect x="292.42" y="766.8" width="2.05" height="0"/>
<rect x="295.66" y="766.8" width="2.05" height="0"/>
<rect x="298.9" y="766.8" width="2.05" height="0"/>
<rect x="302.14" y="766.8" width="2.05" height="0"/>
<rect x="305.39" y="766.8" width="2.05" height="0"/>
<rect x="308.63" y="766.8" width="2.05" height="0"/>
<rect x="311.87" y="766.8" width="2.05" height="0"/>
<rect x="315.11" y="766.8" width="2.05" height="0"/>
<rect x="318.35" y="766.8" width="2.05" height="0"/>
<rect x="321.6" y="766.8" width="2.05" height="0"/>
<rect x="324.84" y="766.8" width="2.05" height="0"/>
<rect x="328.08" y="766.8" width="2.05" height="0"/>
<rect x="331.32" y="766.8" width="2.05" height="0"/>
<rect x="334.56" y="766.8" width="2.05" height="0"/>
<rect x="337.81" y="766.8" width="2.05" height="0"/>
<rect x="341.05" y="743.4" width="2.05" height="23.4"/>
<rect x="344.29" y="766.8" width="2.05" height="0"/>
<rect x="347.53" y="766.8" width="2.05" height="0"/>
<rect x="350.77" y="766.8" width="2.05" height="0"/>
<rect x="354.02" y="766.8" width="2.05" height="0"/>
<rect x="357.26" y="766.8" width="2.05" height="0"/>
<rect x="360.5" y="766.8" width="2.05" height="0"/>
<rect x="363.74" y="766.8" width="2.05" height="0"/>
<rect x="366.98" y="766.8" width="2.05" height="0"/>
<rect x="370.22" y="766.8" width="2.05" height="0"/>
<rect x="373.47" y="766.8" width="2.05" height="0"/>
<rect x="376.71" y="766.8" width="2.05" height="0"/>
<rect x="379.95" y="766.8" width="2.05" height="0"/>
<rect x="383.19" y="766.8" width="2.05" height="0"/>
<rect x="386.43" y="766.8" width="2.05" height="0"/>
<rect x="389.68" y="766.8" width="2.05" height="0"/>
<rect x="392.92" y="766.8" width="2.05" height="0"/>
<rect x="396.16" y="766.8" width="2.05" height="0"/>
<rect x="399.4" y="766.8" width="2.05" height="0"/>
<rect x="402.64" y="766.8" width="2.05" height="0"/>
<rect x="405.89" y="766.8" width="2.05" height="0"/>
<rect x="409.13" y="766.8" width="2.05" height="0"/>
<rect x="412.37" y="766.8" width="2.05" height="0"/>
<rect x="415.61" y="766.8" width="2.05" height="0"/>
<rect x="418.85" y="766.8" width="2.05" height="0"/>
<rect x="422.1" y="766.8" width="2.05" height="0"/>
<rect x="425.34" y="766.8" width="2.05" height="0"/>
<rect x="428.58" y="766.8" width="2.05" height="0"/>
<rect x="431.82" y="766.8" width="2.05" height="0"/>
<rect x="435.06" y="766.8" width="2.05" height="0"/>
<rect x="438.3" y="766.8" width="2.05" height="0"/>
<rect x="441.55" y="766.8" width="2.05" height="0"/>
<rect x="444.79" y="766.8" width="2.05" height="0"/>
<rect x="448.03" y="766.8" width="2.05" height="0"/>
<rect x="451.27" y="766.8" width="2.05" height="0"/>
<rect x="454.51" y="766.8" width="2.05" height="0"/>
<rect x="457.76" y="766.8" width="2.05" height="0"/>
<rect x="461" y="766.8" width="2.05" height="0"/>
<rect x="464.24" y="766.8" width="2.05" height="0"/>
<rect x="467.48" y="766.8" width="2.05" height="0"/>
<rect x="470.72" y="766.8" width="2.05" height="0"/>
<rect x="473.97" y="766.8" width="2.05" height="0"/>
<rect x="477.21" y="766.8" width="2.05" height="0"/>
<rect x="480.45" y="766.8" width="2.05" height="0"/>
<rect x="483.69" y="766.8" width="2.05" height="0"/>
<rect x="486.93" y="766.8" width="2.05" height="0"/>
<rect x="490.18" y="766.8" width="2.05" height="0"/>
<rect x="493.42" y="766.8" width="2.05" height="0"/>
<rect x="496.66" y="766.8" width="2.05" height="0"/>
<rect x="499.9" y="766.8" width="2.05" height="0"/>
<rect x="503.14" y="766.8" width="2.05" height="0"/>
<rect x="506.39" y="766.8" width="2.05" height="0"/>
<rect x="509.63" y="766.8" width="2.05" height="0"/>
<rect x="512.87" y="766.8" width="2.05" height="0"/>
<rect x="516.11" y="766.8" width="2.05" height="0"/>
<rect x="519.35" y="766.8" width="2.05" height="0"/>
<rect x="522.59" y="684.9" width="2.05" height="81.9"/>
<rect x="525.84" y="707.4" width="2.05" height="59.4"/>
<rect x="529.08" y="765.45" width="2.05" height="1.35"/>
<rect x="532.32" y="756" width="2.05" height="10.8"/>
<rect x="535.56" y="766.8" width="2.05" height="0"/>
<rect x="538.8" y="736.2" width="2.05" height="30.6"/>
<rect x="542.05" y="752.4" width="2.05" height="14.4"/>
<rect x="545.29" y="766.8" width="2.05" height="0"/>
<rect x="548.53" y="766.8" width="2.05" height="0"/>
<rect x="551.77" y="766.8" width="2.05" height="0"/>
<rect x="555.01" y="766.8" width="2.05" height="0"/>
<rect x="558.26" y="766.8" width="2.05" height="0"/>
<rect x="561.5" y="751.5" width="2.05" height="15.3"/>
<rect x="564.74" y="766.8" width="2.05" height="0"/>
<rect x="567.98" y="766.8" width="2.05" height="0"/>
<rect x="571.22" y="744.3" width="2.05" height="22.5"/>
<rect x="574.47" y="708.3" width="2.05" height="58.5"/>
<rect x="577.71" y="714.6" width="2.05" height="52.2"/>
<rect x="580.95" y="678.6" width="2.05" height="88.2"/>
<rect x="584.19" y="756.9" width="2.05" height="9.9"/>
<rect x="587.43" y="754.2" width="2.05" height="12.6"/>
<rect x="590.68" y="676.8" width="2.05" height="90"/>
</g>
<g fill="#00dc00" fill-opacity="0.28" stroke="#00dc00" stroke-width="1.1">
<rect x="49.27" y="766.8" width="2.05" height="0"/>
<rect x="52.52" y="763.2" width="2.05" height="3.6"/>
<rect x="55.76" y="761.4" width="2.05" height="5.4"/>
<rect x="59" y="758.7" width="2.05" height="8.1"/>
<rect x="62.24" y="766.8" width="2.05" height="0"/>
<rect x="65.48" y="766.8" width="2.05" height="0"/>
<rect x="68.73" y="766.8" width="2.05" height="0"/>
<rect x="71.97" y="766.8" width="2.05" height="0"/>
<rect x="75.21" y="766.8" width="2.05" height="0"/>
<rect x="78.45" y="766.8" width="2.05" height="0"/>
<rect x="81.69" y="766.8" width="2.05" height="0"/>
<rect x="84.94" y="766.8" width="2.05" height="0"/>
<rect x="88.18" y="766.8" width="2.05" height="0"/>
<rect x="91.42" y="766.8" width="2.05" height="0"/>
<rect x="94.66" y="766.8" width="2.05" height="0"/>
<rect x="97.9" y="766.8" width="2.05" height="0"/>
<rect x="101.15" y="766.8" width="2.05" height="0"/>
<rect x="104.39" y="745.2" width="2.05" height="21.6"/>
<rect x="107.63" y="760.5" width="2.05" height="6.3"/>
<rect x="110.87" y="766.8" width="2.05" height="0"/>
<rect x="114.11" y="766.8" width="2.05" height="0"/>
<rect x="117.36" y="766.8" width="2.05" height="0"/>
<rect x="120.6" y="766.8" width="2.05" height="0"/>
<rect x="123.84" y="766.8" width="2.05" height="0"/>
<rect x="127.08" y="766.8" width="2.05" height="0"/>
<rect x="130.32" y="734.4" width="2.05" height="32.4"/>
<rect x="133.56" y="759.6" width="2.05" height="7.2"/>
<rect x="136.81" y="766.8" width="2.05" height="0"/>
<rect x="140.05" y="743.4" width="2.05" height="23.4"/>
<rect x="143.29" y="698.4" width="2.05" height="68.4"/>
<rect x="146.53" y="701.1" width="2.05" height="65.7"/>
<rect x="149.77" y="742.5" width="2.05" height="24.3"/>
<rect x="153.02" y="701.55" width="2.05" height="65.25"/>
<rect x="156.26" y="715.5" width="2.05" height="51.3"/>
<rect x="159.5" y="742.5" width="2.05" height="24.3"/>
<rect x="162.74" y="748.8" width="2.05" height="18"/>
<rect x="165.98" y="733.5" width="2.05" height="33.3"/>
<rect x="169.23" y="752.4" width="2.05" height="14.4"/>
<rect x="172.47" y="764.1" width="2.05" height="2.7"/>
<rect x="175.71" y="745.2" width="2.05" height="21.6"/>
<rect x="178.95" y="748.8" width="2.05" height="18"/>
<rect x="182.19" y="732.6" width="2.05" height="34.2"/>
<rect x="185.44" y="750.6" width="2.05" height="16.2"/>
<rect x="188.68" y="732.6" width="2.05" height="34.2"/>
<rect x="191.92" y="727.2" width="2.05" height="39.6"/>
<rect x="195.16" y="710.1" width="2.05" height="56.7"/>
<rect x="198.4" y="751.5" width="2.05" height="15.3"/>
<rect x="201.65" y="766.8" width="2.05" height="0"/>
<rect x="204.89" y="766.8" width="2.05" height="0"/>
<rect x="208.13" y="766.8" width="2.05" height="0"/>
<rect x="211.37" y="766.8" width="2.05" height="0"/>
<rect x="214.61" y="766.8" width="2.05" height="0"/>
<rect x="217.85" y="766.8" width="2.05" height="0"/>
<rect x="221.1" y="766.8" width="2.05" height="0"/>
<rect x="224.34" y="766.8" width="2.05" height="0"/>
<rect x="227.58" y="766.8" width="2.05" height="0"/>
<rect x="230.82" y="766.8" width="2.05" height="0"/>
<rect x="234.06" y="766.8" width="2.05" height="0"/>
<rect x="237.31" y="766.8" width="2.05" height="0"/>
<rect x="240.55" y="766.8" width="2.05" height="0"/>
<rect x="243.79" y="766.8" width="2.05" height="0"/>
<rect x="247.03" y="766.8" width="2.05" height="0"/>
<rect x="250.27" y="766.8" width="2.05" height="0"/>
<rect x="253.52" y="766.8" width="2.05" height="0"/>
<rect x="256.76" y="766.8" width="2.05" height="0"/>
<rect x="260" y="766.8" width="2.05" height="0"/>
<rect x="263.24" y="766.8" width="2.05" height="0"/>
<rect x="266.48" y="766.8" width="2.05" height="0"/>
<rect x="269.73" y="766.8" width="2.05" height="0"/>
<rect x="272.97" y="766.8" width="2.05" height="0"/>
<rect x="276.21" y="766.8" width="2.05" height="0"/>
<rect x="279.45" y="766.8" width="2.05" height="0"/>
<rect x="282.69" y="766.8" width="2.05" height="0"/>
<rect x="285.93" y="766.8" width="2.05" height="0"/>
<rect x="289.18" y="766.8" width="2.05" height="0"/>
<rect x="292.42" y="766.8" width="2.05" height="0"/>
<rect x="295.66" y="766.8" width="2.05" height="0"/>
<rect x="298.9" y="766.8" width="2.05" height="0"/>
<rect x="302.14" y="766.8" width="2.05" height="0"/>
<rect x="305.39" y="766.8" width="2.05" height="0"/>
<rect x="308.63" y="766.8" width="2.05" height="0"/>
<rect x="311.87" y="766.8" width="2.05" height="0"/>
<rect x="315.11" y="766.8" width="2.05" height="0"/>
<rect x="318.35" y="766.8" width="2.05" height="0"/>
<rect x="321.6" y="766.8" width="2.05" height="0"/>
<rect x="324.84" y="766.8" width="2.05" height="0"/>
<rect x="328.08" y="766.8" width="2.05" height="0"/>
<rect x="331.32" y="766.8" width="2.05" height="0"/>
<rect x="334.56" y="766.8" width="2.05" height="0"/>
<rect x="337.81" y="766.8" width="2.05" height="0"/>
<rect x="341.05" y="766.8" width="2.05" height="0"/>
<rect x="344.29" y="766.8" width="2.05" height="0"/>
<rect x="347.53" y="766.8" width="2.05" height="0"/>
<rect x="350.77" y="766.8" width="2.05" height="0"/>
<rect x="354.02" y="766.8" width="2.05" height="0"/>
<rect x="357.26" y="760.5" width="2.05" height="6.3"/>
<rect x="360.5" y="766.8" width="2.05" height="0"/>
<rect x="363.74" y="766.8" width="2.05" height="0"/>
<rect x="366.98" y="766.8" width="2.05" height="0"/>
<rect x="370.22" y="766.8" width="2.05" height="0"/>
<rect x="373.47" y="766.8" width="2.05" height="0"/>
<rect x="376.71" y="766.8" width="2.05" height="0"/>
<rect x="379.95" y="766.8" width="2.05" height="0"/>
<rect x="383.19" y="766.8" width="2.05" height="0"/>
<rect x="386.43" y="766.8" width="2.05" height="0"/>
<rect x="389.68" y="766.8" width="2.05" height="0"/>
<rect x="392.92" y="766.8" width="2.05" height="0"/>
<rect x="396.16" y="766.8" width="2.05" height="0"/>
<rect x="399.4" y="766.8" width="2.05" height="0"/>
<rect x="402.64" y="766.8" width="2.05" height="0"/>
<rect x="405.89" y="766.8" width="2.05" height="0"/>
<rect x="409.13" y="766.8" width="2.05" height="0"/>
<rect x="412.37" y="766.8" width="2.05" height="0"/>
<rect x="415.61" y="766.8" width="2.05" height="0"/>
<rect x="418.85" y="766.8" width="2.05" height="0"/>
<rect x="422.1" y="766.8" width="2.05" height="0"/>
<rect x="425.34" y="766.8" width="2.05" height="0"/>
<rect x="428.58" y="766.8" width="2.05" height="0"/>
<rect x="431.82" y="766.8" width="2.05" height="0"/>
<rect x="435.06" y="766.8" width="2.05" height="0"/>
<rect x="438.3" y="766.8" width="2.05" height="0"/>
<rect x="441.55" y="766.8" width="2.05" height="0"/>
<rect x="444.79" y="766.8" width="2.05" height="0"/>
<rect x="448.03" y="766.8" width="2.05" height="0"/>
<rect x="451.27" y="766.8" width="2.05" height="0"/>
<rect x="454.51" y="766.8" width="2.05" height="0"/>
<rect x="457.76" y="766.8" width="2.05" height="0"/>
<rect x="461" y="766.8" width="2.05" height="0"/>
<rect x="464.24" y="766.8" width="2.05" height="0"/>
<rect x="467.48" y="766.8" width="2.05" height="0"/>
<rect x="470.72" y="766.8" width="2.05" height="0"/>
<rect x="473.97" y="766.8" width="2.05" height="0"/>
<rect x="477.21" y="766.8" width="2.05" height="0"/>
<rect x="480.45" y="766.8" width="2.05" height="0"/>
<rect x="483.69" y="766.8" width="2.05" height="0"/>
<rect x="486.93" y="766.8" width="2.05" height="0"/>
<rect x="490.18" y="766.8" width="2.05" height="0"/>
<rect x="493.42" y="766.8" width="2.05" height="0"/>
<rect x="496.66" y="766.8" width="2.05" height="0"/>
<rect x="499.9" y="766.8" width="2.05" height="0"/>
<rect x="503.14" y="766.8" width="2.05" height="0"/>
<rect x="506.39" y="766.8" width="2.05" height="0"/>
<rect x="509.63" y="766.8" width="2.05" height="0"/>
<rect x="512.87" y="766.8" width="2.05" height="0"/>
<rect x="516.11" y="766.8" width="2.05" height="0"/>
<rect x="519.35" y="766.8" width="2.05" height="0"/>
<rect x="522.59" y="766.8" width="2.05" height="0"/>
<rect x="525.84" y="766.8" width="2.05" height="0"/>
<rect x="529.08" y="766.8" width="2.05" height="0"/>
<rect x="532.32" y="766.8" width="2.05" height="0"/>
<rect x="535.56" y="766.8" width="2.05" height="0"/>
<rect x="538.8" y="766.8" width="2.05" height="0"/>
<rect x="542.05" y="766.8" width="2.05" height="0"/>
<rect x="545.29" y="766.8" width="2.05" height="0"/>
<rect x="548.53" y="766.8" width="2.05" height="0"/>
<rect x="551.77" y="766.8" width="2.05" height="0"/>
<rect x="555.01" y="766.8" width="2.05" height="0"/>
<rect x="558.26" y="766.8" width="2.05" height="0"/>
<rect x="561.5" y="766.8" width="2.05" height="0"/>
<rect x="564.74" y="766.8" width="2.05" height="0"/>
<rect x="567.98" y="766.8" width="2.05" height="0"/>
<rect x="571.22" y="759.6" width="2.05" height="7.2"/>
<rect x="574.47" y="756.9" width="2.05" height="9.9"/>
<rect x="577.71" y="766.8" width="2.05" height="0"/>
<rect x="580.95" y="766.8" width="2.05" height="0"/>
<rect x="584.19" y="766.8" width="2.05" height="0"/>
<rect x="587.43" y="766.8" width="2.05" height="0"/>
<rect x="590.68" y="752.4" width="2.05" height="14.4"/>
</g>
<g fill="#1e3cff" fill-opacity="0.05" stroke="#1e3cff" stroke-width="1.15">
<rect x="48.82" y="766.8" width="2.95" height="0"/>
<rect x="52.07" y="766.8" width="2.95" height="0"/>
<rect x="55.31" y="766.8" width="2.95" height="0"/>
<rect x="58.55" y="766.8" width="2.95" height="0"/>
<rect x="61.79" y="766.8" width="2.95" height="0"/>
<rect x="65.03" y="766.8" width="2.95" height="0"/>
<rect x="68.28" y="766.8" width="2.95" height="0"/>
<rect x="71.52" y="766.8" width="2.95" height="0"/>
<rect x="74.76" y="765.9" width="2.95" height="0.9"/>
<rect x="78" y="765.45" width="2.95" height="1.35"/>
<rect x="81.24" y="765.9" width="2.95" height="0.9"/>
<rect x="84.49" y="766.8" width="2.95" height="0"/>
<rect x="87.73" y="766.8" width="2.95" height="0"/>
<rect x="90.97" y="766.8" width="2.95" height="0"/>
<rect x="94.21" y="766.8" width="2.95" height="0"/>
<rect x="97.45" y="760.5" width="2.95" height="6.3"/>
<rect x="100.7" y="722.7" width="2.95" height="44.1"/>
<rect x="103.94" y="700.2" width="2.95" height="66.6"/>
<rect x="107.18" y="745.2" width="2.95" height="21.6"/>
<rect x="110.42" y="765.9" width="2.95" height="0.9"/>
<rect x="113.66" y="766.8" width="2.95" height="0"/>
<rect x="116.91" y="766.8" width="2.95" height="0"/>
<rect x="120.15" y="766.8" width="2.95" height="0"/>
<rect x="123.39" y="766.8" width="2.95" height="0"/>
<rect x="126.63" y="754.2" width="2.95" height="12.6"/>
<rect x="129.87" y="766.8" width="2.95" height="0"/>
<rect x="133.11" y="766.8" width="2.95" height="0"/>
<rect x="136.36" y="766.8" width="2.95" height="0"/>
<rect x="139.6" y="766.8" width="2.95" height="0"/>
<rect x="142.84" y="760.5" width="2.95" height="6.3"/>
<rect x="146.08" y="753.3" width="2.95" height="13.5"/>
<rect x="149.32" y="741.6" width="2.95" height="25.2"/>
<rect x="152.57" y="739.8" width="2.95" height="27"/>
<rect x="155.81" y="761.4" width="2.95" height="5.4"/>
<rect x="159.05" y="763.47" width="2.95" height="3.33"/>
<rect x="162.29" y="766.8" width="2.95" height="0"/>
<rect x="165.53" y="751.5" width="2.95" height="15.3"/>
<rect x="168.78" y="752.4" width="2.95" height="14.4"/>
<rect x="172.02" y="727.2" width="2.95" height="39.6"/>
<rect x="175.26" y="688.5" width="2.95" height="78.3"/>
<rect x="178.5" y="682.2" width="2.95" height="84.6"/>
<rect x="181.74" y="744.75" width="2.95" height="22.05"/>
<rect x="184.99" y="743.76" width="2.95" height="23.04"/>
<rect x="188.23" y="736.47" width="2.95" height="30.33"/>
<rect x="191.47" y="739.8" width="2.95" height="27"/>
<rect x="194.71" y="734.4" width="2.95" height="32.4"/>
<rect x="197.95" y="752.94" width="2.95" height="13.86"/>
<rect x="201.2" y="766.8" width="2.95" height="0"/>
<rect x="204.44" y="764.64" width="2.95" height="2.16"/>
<rect x="207.68" y="756" width="2.95" height="10.8"/>
<rect x="210.92" y="740.7" width="2.95" height="26.1"/>
<rect x="214.16" y="720.9" width="2.95" height="45.9"/>
<rect x="217.4" y="697.5" width="2.95" height="69.3"/>
<rect x="220.65" y="684" width="2.95" height="82.8"/>
<rect x="223.89" y="680.4" width="2.95" height="86.4"/>
<rect x="227.13" y="676.8" width="2.95" height="90"/>
<rect x="230.37" y="676.8" width="2.95" height="90"/>
<rect x="233.61" y="676.8" width="2.95" height="90"/>
<rect x="236.86" y="676.8" width="2.95" height="90"/>
<rect x="240.1" y="717.75" width="2.95" height="49.05"/>
<rect x="243.34" y="727.56" width="2.95" height="39.24"/>
<rect x="246.58" y="695.34" width="2.95" height="71.46"/>
<rect x="249.82" y="741.6" width="2.95" height="25.2"/>
<rect x="253.07" y="766.8" width="2.95" height="0"/>
<rect x="256.31" y="766.8" width="2.95" height="0"/>
<rect x="259.55" y="766.8" width="2.95" height="0"/>
<rect x="262.79" y="766.8" width="2.95" height="0"/>
<rect x="266.03" y="766.8" width="2.95" height="0"/>
<rect x="269.28" y="766.8" width="2.95" height="0"/>
<rect x="272.52" y="766.8" width="2.95" height="0"/>
<rect x="275.76" y="766.8" width="2.95" height="0"/>
<rect x="279" y="766.8" width="2.95" height="0"/>
<rect x="282.24" y="766.8" width="2.95" height="0"/>
<rect x="285.48" y="766.8" width="2.95" height="0"/>
<rect x="288.73" y="766.8" width="2.95" height="0"/>
<rect x="291.97" y="766.8" width="2.95" height="0"/>
<rect x="295.21" y="766.8" width="2.95" height="0"/>
<rect x="298.45" y="766.8" width="2.95" height="0"/>
<rect x="301.69" y="763.92" width="2.95" height="2.88"/>
<rect x="304.94" y="761.13" width="2.95" height="5.67"/>
<rect x="308.18" y="763.92" width="2.95" height="2.88"/>
<rect x="311.42" y="764.19" width="2.95" height="2.61"/>
<rect x="314.66" y="762.3" width="2.95" height="4.5"/>
<rect x="317.9" y="760.5" width="2.95" height="6.3"/>
<rect x="321.15" y="766.8" width="2.95" height="0"/>
<rect x="324.39" y="766.8" width="2.95" height="0"/>
<rect x="327.63" y="766.8" width="2.95" height="0"/>
<rect x="330.87" y="766.8" width="2.95" height="0"/>
<rect x="334.11" y="766.8" width="2.95" height="0"/>
<rect x="337.36" y="766.8" width="2.95" height="0"/>
<rect x="340.6" y="766.8" width="2.95" height="0"/>
<rect x="343.84" y="763.92" width="2.95" height="2.88"/>
<rect x="347.08" y="763.2" width="2.95" height="3.6"/>
<rect x="350.32" y="766.8" width="2.95" height="0"/>
<rect x="353.57" y="760.5" width="2.95" height="6.3"/>
<rect x="356.81" y="720" width="2.95" height="46.8"/>
<rect x="360.05" y="742.68" width="2.95" height="24.12"/>
<rect x="363.29" y="760.77" width="2.95" height="6.03"/>
<rect x="366.53" y="766.8" width="2.95" height="0"/>
<rect x="369.77" y="766.8" width="2.95" height="0"/>
<rect x="373.02" y="763.2" width="2.95" height="3.6"/>
<rect x="376.26" y="766.8" width="2.95" height="0"/>
<rect x="379.5" y="765.72" width="2.95" height="1.08"/>
<rect x="382.74" y="762.57" width="2.95" height="4.23"/>
<rect x="385.98" y="762.57" width="2.95" height="4.23"/>
<rect x="389.23" y="742.5" width="2.95" height="24.3"/>
<rect x="392.47" y="739.8" width="2.95" height="27"/>
<rect x="395.71" y="754.56" width="2.95" height="12.24"/>
<rect x="398.95" y="744.75" width="2.95" height="22.05"/>
<rect x="402.19" y="718.2" width="2.95" height="48.6"/>
<rect x="405.44" y="691.2" width="2.95" height="75.6"/>
<rect x="408.68" y="676.8" width="2.95" height="90"/>
<rect x="411.92" y="682.2" width="2.95" height="84.6"/>
<rect x="415.16" y="721.8" width="2.95" height="45"/>
<rect x="418.4" y="719.1" width="2.95" height="47.7"/>
<rect x="421.65" y="708.3" width="2.95" height="58.5"/>
<rect x="424.89" y="703.8" width="2.95" height="63"/>
<rect x="428.13" y="741.6" width="2.95" height="25.2"/>
<rect x="431.37" y="766.8" width="2.95" height="0"/>
<rect x="434.61" y="766.8" width="2.95" height="0"/>
<rect x="437.85" y="766.8" width="2.95" height="0"/>
<rect x="441.1" y="766.8" width="2.95" height="0"/>
<rect x="444.34" y="766.8" width="2.95" height="0"/>
<rect x="447.58" y="766.8" width="2.95" height="0"/>
<rect x="450.82" y="766.8" width="2.95" height="0"/>
<rect x="454.06" y="765.72" width="2.95" height="1.08"/>
<rect x="457.31" y="766.8" width="2.95" height="0"/>
<rect x="460.55" y="765.72" width="2.95" height="1.08"/>
<rect x="463.79" y="765.45" width="2.95" height="1.35"/>
<rect x="467.03" y="765" width="2.95" height="1.8"/>
<rect x="470.27" y="765" width="2.95" height="1.8"/>
<rect x="473.52" y="764.1" width="2.95" height="2.7"/>
<rect x="476.76" y="766.8" width="2.95" height="0"/>
<rect x="480" y="766.8" width="2.95" height="0"/>
<rect x="483.24" y="766.8" width="2.95" height="0"/>
<rect x="486.48" y="745.2" width="2.95" height="21.6"/>
<rect x="489.73" y="763.2" width="2.95" height="3.6"/>
<rect x="492.97" y="766.8" width="2.95" height="0"/>
<rect x="496.21" y="766.8" width="2.95" height="0"/>
<rect x="499.45" y="766.8" width="2.95" height="0"/>
<rect x="502.69" y="766.8" width="2.95" height="0"/>
<rect x="505.94" y="766.8" width="2.95" height="0"/>
<rect x="509.18" y="766.8" width="2.95" height="0"/>
<rect x="512.42" y="766.8" width="2.95" height="0"/>
<rect x="515.66" y="766.8" width="2.95" height="0"/>
<rect x="518.9" y="766.8" width="2.95" height="0"/>
<rect x="522.14" y="766.8" width="2.95" height="0"/>
<rect x="525.39" y="765.45" width="2.95" height="1.35"/>
<rect x="528.63" y="766.8" width="2.95" height="0"/>
<rect x="531.87" y="766.8" width="2.95" height="0"/>
<rect x="535.11" y="766.8" width="2.95" height="0"/>
<rect x="538.35" y="765" width="2.95" height="1.8"/>
<rect x="541.6" y="764.64" width="2.95" height="2.16"/>
<rect x="544.84" y="765.45" width="2.95" height="1.35"/>
<rect x="548.08" y="766.8" width="2.95" height="0"/>
<rect x="551.32" y="766.8" width="2.95" height="0"/>
<rect x="554.56" y="766.8" width="2.95" height="0"/>
<rect x="557.81" y="766.8" width="2.95" height="0"/>
<rect x="561.05" y="766.8" width="2.95" height="0"/>
<rect x="564.29" y="766.8" width="2.95" height="0"/>
<rect x="567.53" y="766.8" width="2.95" height="0"/>
<rect x="570.77" y="766.8" width="2.95" height="0"/>
<rect x="574.02" y="766.8" width="2.95" height="0"/>
<rect x="577.26" y="766.8" width="2.95" height="0"/>
<rect x="580.5" y="766.8" width="2.95" height="0"/>
<rect x="583.74" y="766.8" width="2.95" height="0"/>
<rect x="586.98" y="766.8" width="2.95" height="0"/>
<rect x="590.23" y="766.8" width="2.95" height="0"/>
</g>
</g>
<rect x="50.3" y="676.8" width="541.4" height="90" fill="none" stroke="#000" stroke-width="1.45"/>
<line x1="46.7" y1="766.8" x2="50.3" y2="766.8" stroke="#000" stroke-width="1.45"/>
<text x="43.8" y="770.8" font-size="10.5" fill="#000" text-anchor="end" stroke="#000" stroke-width="0.5" letter-spacing="0.45">0</text>
<line x1="46.7" y1="748.8" x2="50.3" y2="748.8" stroke="#000" stroke-width="1.45"/>
<text x="44.25" y="752.8" font-size="10.5" fill="#000" text-anchor="end" stroke="#000" stroke-width="0.5" letter-spacing="0.45">20</text>
<line x1="46.7" y1="730.8" x2="50.3" y2="730.8" stroke="#000" stroke-width="1.45"/>
<text x="44.25" y="734.8" font-size="10.5" fill="#000" text-anchor="end" stroke="#000" stroke-width="0.5" letter-spacing="0.45">40</text>
<line x1="46.7" y1="712.8" x2="50.3" y2="712.8" stroke="#000" stroke-width="1.45"/>
<text x="44.25" y="716.8" font-size="10.5" fill="#000" text-anchor="end" stroke="#000" stroke-width="0.5" letter-spacing="0.45">60</text>
<line x1="46.7" y1="694.8" x2="50.3" y2="694.8" stroke="#000" stroke-width="1.45"/>
<text x="44.25" y="698.8" font-size="10.5" fill="#000" text-anchor="end" stroke="#000" stroke-width="0.5" letter-spacing="0.45">80</text>
<line x1="46.7" y1="676.8" x2="50.3" y2="676.8" stroke="#000" stroke-width="1.45"/>
<text x="44.25" y="680.8" font-size="10.5" fill="#000" text-anchor="end" stroke="#000" stroke-width="0.5" letter-spacing="0.45">100</text>
<line x1="50.3" y1="766.8" x2="50.3" y2="770.6" stroke="#000" stroke-width="1.45"/>
<text x="38.3" y="780.5" font-size="10.5" fill="#000" text-anchor="start" textLength="24.4" lengthAdjust="spacingAndGlyphs" stroke="#000" stroke-width="0.45">7APR</text>
<line x1="128.11" y1="766.8" x2="128.11" y2="770.6" stroke="#000" stroke-width="1.45"/>
<text x="116.11" y="780.5" font-size="10.5" fill="#000" text-anchor="start" textLength="24.4" lengthAdjust="spacingAndGlyphs" stroke="#000" stroke-width="0.45">8APR</text>
<line x1="205.91" y1="766.8" x2="205.91" y2="770.6" stroke="#000" stroke-width="1.45"/>
<text x="193.91" y="780.5" font-size="10.5" fill="#000" text-anchor="start" textLength="24.4" lengthAdjust="spacingAndGlyphs" stroke="#000" stroke-width="0.45">9APR</text>
<line x1="283.72" y1="766.8" x2="283.72" y2="770.6" stroke="#000" stroke-width="1.45"/>
<text x="268.62" y="780.5" font-size="10.5" fill="#000" text-anchor="start" textLength="30.6" lengthAdjust="spacingAndGlyphs" stroke="#000" stroke-width="0.45">10APR</text>
<line x1="361.52" y1="766.8" x2="361.52" y2="770.6" stroke="#000" stroke-width="1.45"/>
<text x="346.42" y="780.5" font-size="10.5" fill="#000" text-anchor="start" textLength="30.6" lengthAdjust="spacingAndGlyphs" stroke="#000" stroke-width="0.45">11APR</text>
<line x1="439.33" y1="766.8" x2="439.33" y2="770.6" stroke="#000" stroke-width="1.45"/>
<text x="424.23" y="780.5" font-size="10.5" fill="#000" text-anchor="start" textLength="30.6" lengthAdjust="spacingAndGlyphs" stroke="#000" stroke-width="0.45">12APR</text>
<line x1="517.14" y1="766.8" x2="517.14" y2="770.6" stroke="#000" stroke-width="1.45"/>
<text x="502.04" y="780.5" font-size="10.5" fill="#000" text-anchor="start" textLength="30.6" lengthAdjust="spacingAndGlyphs" stroke="#000" stroke-width="0.45">13APR</text>
<text x="38" y="791.1" font-size="10.5" fill="#000" text-anchor="start" textLength="24.2" lengthAdjust="spacingAndGlyphs" stroke="#000" stroke-width="0.45">2026</text>
<line x1="51.3" y1="766.8" x2="590.7" y2="766.8" stroke="#1e3cff" stroke-width="1.3"/>
<line x1="50.3" y1="766.8" x2="591.7" y2="766.8" stroke="#c4c4c4" stroke-width="1.25" stroke-dasharray="1.5 4.98" stroke-dashoffset="0.53"/>
<line x1="50.3" y1="748.8" x2="591.7" y2="748.8" stroke="#989898" stroke-width="1.25" stroke-dasharray="1.5 4.98" stroke-dashoffset="0.53"/>
<line x1="50.3" y1="730.8" x2="591.7" y2="730.8" stroke="#989898" stroke-width="1.25" stroke-dasharray="1.5 4.98" stroke-dashoffset="0.53"/>
<line x1="50.3" y1="712.8" x2="591.7" y2="712.8" stroke="#989898" stroke-width="1.25" stroke-dasharray="1.5 4.98" stroke-dashoffset="0.53"/>
<line x1="50.3" y1="694.8" x2="591.7" y2="694.8" stroke="#989898" stroke-width="1.25" stroke-dasharray="1.5 4.98" stroke-dashoffset="0.53"/>
<line x1="50.3" y1="676.8" x2="591.7" y2="676.8" stroke="#c4c4c4" stroke-width="1.25" stroke-dasharray="1.5 4.98" stroke-dashoffset="0.53"/>
<line x1="50.3" y1="676.8" x2="50.3" y2="766.8" stroke="#c4c4c4" stroke-width="1.25" stroke-dasharray="1.5 4.93" stroke-dashoffset="-4.85"/>
<line x1="128.11" y1="676.8" x2="128.11" y2="766.8" stroke="#989898" stroke-width="1.25" stroke-dasharray="1.5 4.93" stroke-dashoffset="-4.85"/>
<line x1="205.91" y1="676.8" x2="205.91" y2="766.8" stroke="#989898" stroke-width="1.25" stroke-dasharray="1.5 4.93" stroke-dashoffset="-4.85"/>
<line x1="283.72" y1="676.8" x2="283.72" y2="766.8" stroke="#989898" stroke-width="1.25" stroke-dasharray="1.5 4.93" stroke-dashoffset="-4.85"/>
<line x1="361.52" y1="676.8" x2="361.52" y2="766.8" stroke="#989898" stroke-width="1.25" stroke-dasharray="1.5 4.93" stroke-dashoffset="-4.85"/>
<line x1="439.33" y1="676.8" x2="439.33" y2="766.8" stroke="#989898" stroke-width="1.25" stroke-dasharray="1.5 4.93" stroke-dashoffset="-4.85"/>
<line x1="517.14" y1="676.8" x2="517.14" y2="766.8" stroke="#989898" stroke-width="1.25" stroke-dasharray="1.5 4.93" stroke-dashoffset="-4.85"/>
<text x="72.3" y="674.6" font-size="15.0" fill="#000" text-anchor="start" textLength="64.9" lengthAdjust="spacingAndGlyphs" stroke="#000" stroke-width="0.4">Cobertura</text>
<text x="147.5" y="674.6" font-size="15.0" fill="#000" text-anchor="start" textLength="13.5" lengthAdjust="spacingAndGlyphs" stroke="#000" stroke-width="0.4">de</text>
<text x="170.3" y="674.6" font-size="15.0" fill="#000" text-anchor="start" textLength="46.9" lengthAdjust="spacingAndGlyphs" stroke="#000" stroke-width="0.4">Nuvens</text>
<text x="226.5" y="674.6" font-size="15.0" fill="#000" text-anchor="start" textLength="20.5" lengthAdjust="spacingAndGlyphs" stroke="#000" stroke-width="0.4">(%)</text>
<rect x="252.1" y="662.3" width="7.1" height="10.7" fill="none" stroke="#1e3cff" stroke-width="1.0" stroke-opacity="0.8"/>
<text x="264.2" y="673.7" font-size="13.8" fill="#1e3cff" text-anchor="start" textLength="44.8" lengthAdjust="spacingAndGlyphs" stroke="#1e3cff" stroke-width="0.7">nuvens</text>
<text x="318.9" y="673.7" font-size="13.8" fill="#1e3cff" text-anchor="start" textLength="41.1" lengthAdjust="spacingAndGlyphs" stroke="#1e3cff" stroke-width="0.7">baixas</text>
<rect x="371.5" y="662.2" width="7.1" height="10.7" fill="none" stroke="#00dc00" stroke-width="1.0" stroke-opacity="0.8"/>
<text x="383.3" y="673.7" font-size="13.8" fill="#00dc00" text-anchor="start" textLength="44.6" lengthAdjust="spacingAndGlyphs" stroke="#00dc00" stroke-width="0.7">nuvens</text>
<text x="438.2" y="673.7" font-size="13.8" fill="#00dc00" text-anchor="start" textLength="45.6" lengthAdjust="spacingAndGlyphs" stroke="#00dc00" stroke-width="0.7">medias</text>
<rect x="492.4" y="661.6" width="7.1" height="10.7" fill="none" stroke="#f08228" stroke-width="1.0" stroke-opacity="0.8"/>
<text x="502.4" y="673.5" font-size="13.8" fill="#f08228" text-anchor="start" textLength="45" lengthAdjust="spacingAndGlyphs" stroke="#f08228" stroke-width="0.7">nuvens</text>
<text x="556.8" y="673.5" font-size="13.8" fill="#f08228" text-anchor="start" textLength="30.8" lengthAdjust="spacingAndGlyphs" stroke="#f08228" stroke-width="0.7">altas</text>
</svg></body></html>
